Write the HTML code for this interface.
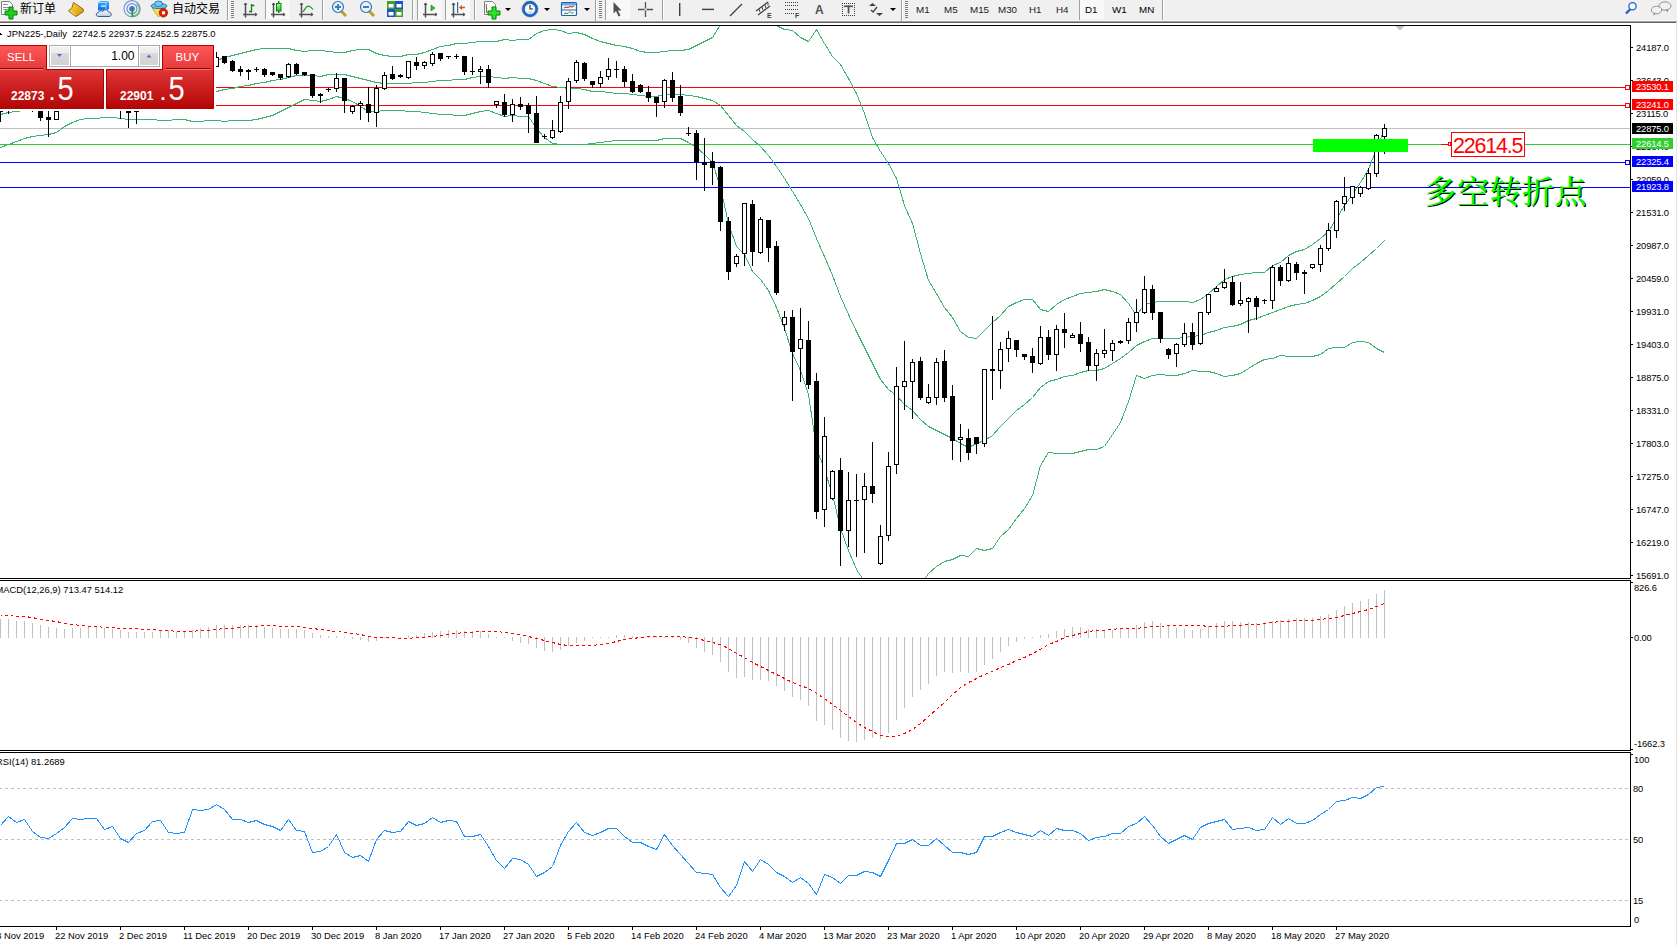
<!DOCTYPE html>
<html><head><meta charset="utf-8"><title>MT4 JPN225 Daily</title>
<style>
html,body{margin:0;padding:0;background:#fff;}
body{width:1677px;height:945px;overflow:hidden;position:relative;font-family:'Liberation Sans', sans-serif;}
</style></head><body>
<svg width="1677" height="23" style="position:absolute;left:0;top:0"><rect x="0" y="0" width="1677" height="20" fill="#f0f0f0"/><rect x="0" y="20" width="1677" height="1" fill="#f7f7f7"/><rect x="0" y="21" width="1677" height="1" fill="#a0a0a0"/><rect x="0" y="22" width="1677" height="1" fill="#646464"/><defs><pattern id="chk" width="2" height="2" patternUnits="userSpaceOnUse"><rect width="2" height="2" fill="#f4f4f4"/><rect width="1" height="1" fill="#fdfdfd"/><rect x="1" y="1" width="1" height="1" fill="#fdfdfd"/></pattern><linearGradient id="gold" x1="0" y1="0" x2="1" y2="1"><stop offset="0" stop-color="#ffe040"/><stop offset="1" stop-color="#d09000"/></linearGradient><linearGradient id="blu" x1="0" y1="0" x2="0" y2="1"><stop offset="0" stop-color="#40b0ff"/><stop offset="1" stop-color="#0070e0"/></linearGradient><linearGradient id="cld" x1="0" y1="0" x2="0" y2="1"><stop offset="0" stop-color="#ffffff"/><stop offset="1" stop-color="#b8c8e0"/></linearGradient><radialGradient id="clk" cx="0.5" cy="0.5" r="0.5"><stop offset="0.6" stop-color="#ffffff"/><stop offset="1" stop-color="#d0e0f0"/></radialGradient><linearGradient id="grn" x1="0" y1="0" x2="0" y2="1"><stop offset="0" stop-color="#a0ffa0"/><stop offset="1" stop-color="#20c020"/></linearGradient></defs><path d="M1.5,1.5 h8 l3,3 v10 h-11 z" fill="#fff" stroke="#808080"/><rect x="3" y="4" width="5" height="1" fill="#909090"/><rect x="3" y="7" width="7" height="1" fill="#909090"/><rect x="3" y="9" width="6" height="1" fill="#909090"/><path d="M9,7 h4 v4 h4 v4 h-4 v4 h-4 v-4 h-4 v-4 h4 z" fill="#20d020" stroke="#008000" stroke-width="1"/><text x="20" y="12.5" font-size="12" font-family="'Liberation Sans', 'Noto Sans CJK SC', sans-serif" fill="#000">新订单</text><path d="M73.5,2.5 L83,9 L83.5,11.5 L76,16.5 L68.5,11 L72,7.5 Z" fill="url(#gold)" stroke="#a06010" stroke-width="1"/><path d="M70,11 L76,15" stroke="#f8e8a0" stroke-width="1"/><path d="M98,2.5 L100.5,1 L109,1 L109,9 L106,10.5 L98,10.5 Z" fill="url(#blu)"/><path d="M98,2.5 L106,2.5 L106,10.5 M106,2.5 L109,1" stroke="#bfe4ff" stroke-width="0.8" fill="none"/><rect x="101" y="5.5" width="4.5" height="1.3" fill="#e8f6ff"/><path d="M98.5,16.5 C95.5,16.5 95.5,12.5 98.5,12.5 C99,10.8 101.5,10.3 102.8,11.5 C103.8,9.2 107.8,9.2 108.4,12 C111.8,11.8 112.3,16.5 109,16.5 Z" fill="url(#cld)" stroke="#3a5a95" stroke-width="1"/><circle cx="132" cy="8.7" r="8" fill="none" stroke="#4070d0" stroke-width="1.2" opacity="0.7"/><circle cx="132" cy="8.7" r="5" fill="none" stroke="#4070d0" stroke-width="1.2" opacity="0.75"/><circle cx="132" cy="8.7" r="2.2" fill="none" stroke="#4070d0" stroke-width="1.2" opacity="1"/><path d="M132,8.7 m-8,0 a8,8 0 0 0 8,8" fill="none"/><path d="M136.5,4 A6.5,6.5 0 0 1 132.5,16" fill="none" stroke="#60b060" stroke-width="2" opacity="0.7"/><circle cx="132" cy="8.7" r="1.8" fill="#3060d0"/><rect x="131.5" y="9" width="1.6" height="7.8" fill="#20a020"/><path d="M152,8 L166,8 L158.5,17 Z" fill="#f8e050" stroke="#d0a020" stroke-width="1"/><ellipse cx="159" cy="6" rx="8" ry="2.6" fill="#70c0f0" stroke="#2080b0" stroke-width="1"/><ellipse cx="158.5" cy="3.8" rx="4" ry="2.8" fill="#80c8f0" stroke="#2080b0" stroke-width="1"/><circle cx="163.4" cy="12.8" r="4.2" fill="#e02000" stroke="#b01000" stroke-width="0.8"/><rect x="162" y="11.3" width="3" height="3" fill="#fff"/><text x="172" y="12.5" font-size="12" font-family="'Liberation Sans', 'Noto Sans CJK SC', sans-serif" fill="#000">自动交易</text><rect x="227" y="0" width="1" height="20" fill="#a0a0a0"/><rect x="228" y="0" width="1" height="20" fill="#fcfcfc"/><rect x="231" y="1" width="3" height="1" fill="#808080"/><rect x="231" y="3" width="3" height="1" fill="#808080"/><rect x="231" y="5" width="3" height="1" fill="#808080"/><rect x="231" y="7" width="3" height="1" fill="#808080"/><rect x="231" y="9" width="3" height="1" fill="#808080"/><rect x="231" y="11" width="3" height="1" fill="#808080"/><rect x="231" y="13" width="3" height="1" fill="#808080"/><rect x="231" y="15" width="3" height="1" fill="#808080"/><rect x="231" y="17" width="3" height="1" fill="#808080"/><path d="M245.5,3 v14.5 M243,14.5 h14" stroke="#505050" stroke-width="1.5" fill="none"/><path d="M243.5,5 l2,-2.5 l2,2.5 z M255,12.5 l2.5,2 l-2.5,2 z" fill="#505050"/><path d="M251.5,4 v8.5 M251.5,5.5 h2.8 M251.5,11.5 h-2.5" stroke="#108010" stroke-width="1.3" fill="none"/><rect x="265" y="0" width="1" height="19" fill="#a0a0a0"/><rect x="266" y="0" width="1" height="19" fill="#fcfcfc"/><rect x="266" y="0" width="24" height="19" fill="url(#chk)"/><path d="M273.5,3 v14.5 M271,14.5 h14" stroke="#505050" stroke-width="1.5" fill="none"/><path d="M271.5,5 l2,-2.5 l2,2.5 z M283,12.5 l2.5,2 l-2.5,2 z" fill="#505050"/><rect x="276.5" y="3.5" width="4.5" height="7.5" fill="url(#grn)" stroke="#108010" stroke-width="1"/><path d="M278.8,1 v2.5 M278.8,11 v2" stroke="#108010" stroke-width="1.3"/><path d="M301.5,3 v14.5 M299,14.5 h14" stroke="#505050" stroke-width="1.5" fill="none"/><path d="M299.5,5 l2,-2.5 l2,2.5 z M311,12.5 l2.5,2 l-2.5,2 z" fill="#505050"/><path d="M303,12 C306,7 308,3 313,9.5" stroke="#20a020" stroke-width="1.2" fill="none"/><rect x="322" y="0" width="1" height="20" fill="#a0a0a0"/><rect x="323" y="0" width="1" height="20" fill="#fcfcfc"/><line x1="341" y1="11" x2="346" y2="16" stroke="#c0a020" stroke-width="3"/><circle cx="338" cy="7" r="5.5" fill="#e8f4ff" stroke="#3070c0" stroke-width="1.2"/><rect x="335" y="6" width="6" height="2" fill="#4080b0"/><rect x="337" y="4" width="2" height="6" fill="#4080b0"/><line x1="369" y1="11" x2="374" y2="16" stroke="#c0a020" stroke-width="3"/><circle cx="366" cy="7" r="5.5" fill="#e8f4ff" stroke="#3070c0" stroke-width="1.2"/><rect x="363" y="6" width="6" height="2" fill="#4080b0"/><rect x="387" y="1" width="8" height="8" fill="#40a020"/><rect x="388.5" y="4" width="5" height="3.5" fill="#fff"/><rect x="395" y="1" width="8" height="8" fill="#2050d0"/><rect x="396.5" y="4" width="5" height="3.5" fill="#fff"/><rect x="387" y="9" width="8" height="8" fill="#2050d0"/><rect x="388.5" y="12" width="5" height="3.5" fill="#fff"/><rect x="395" y="9" width="8" height="8" fill="#40a020"/><rect x="396.5" y="12" width="5" height="3.5" fill="#fff"/><rect x="412" y="0" width="1" height="20" fill="#a0a0a0"/><rect x="413" y="0" width="1" height="20" fill="#fcfcfc"/><rect x="417" y="0" width="1" height="20" fill="#a0a0a0"/><rect x="418" y="0" width="1" height="20" fill="#fcfcfc"/><rect x="418" y="0" width="24" height="19" fill="url(#chk)"/><path d="M425.5,3 v14.5 M423,14.5 h14" stroke="#505050" stroke-width="1.5" fill="none"/><path d="M423.5,5 l2,-2.5 l2,2.5 z M435,12.5 l2.5,2 l-2.5,2 z" fill="#505050"/><path d="M431,5 l4,3 l-4,3 z" fill="#20c040" stroke="#108020" stroke-width="0.6"/><rect x="445" y="0" width="1" height="20" fill="#a0a0a0"/><rect x="446" y="0" width="1" height="20" fill="#fcfcfc"/><rect x="446" y="0" width="24" height="19" fill="url(#chk)"/><path d="M453.5,3 v14.5 M451,14.5 h14" stroke="#505050" stroke-width="1.5" fill="none"/><path d="M451.5,5 l2,-2.5 l2,2.5 z M463,12.5 l2.5,2 l-2.5,2 z" fill="#505050"/><rect x="457" y="2" width="1.2" height="11" fill="#2070b0"/><path d="M459,7.5 l3,-2.5 v1.7 h3 v1.6 h-3 v1.7 z" fill="#e05010"/><rect x="474" y="0" width="1" height="20" fill="#a0a0a0"/><rect x="475" y="0" width="1" height="20" fill="#fcfcfc"/><path d="M484.5,1.5 h8 l3,3 v10 h-11 z" fill="#fff" stroke="#808080"/><path d="M487,4 C486,4 486,6 486.5,8 C487,10 486,12 487,13" stroke="#605030" stroke-width="1" fill="none"/><path d="M492,7 h4 v4 h4 v4 h-4 v4 h-4 v-4 h-4 v-4 h4 z" fill="#30e030" stroke="#008000" stroke-width="1"/><path d="M505,8 h6 l-3,3 z" fill="#000"/><circle cx="530" cy="9" r="6.6" fill="#ffffff" stroke="#1a64c8" stroke-width="2.6"/><circle cx="530" cy="9" r="8" fill="none" stroke="#0c3f90" stroke-width="0.6" opacity="0.6"/><rect x="529.60" y="4.00" width="0.8" height="0.8" fill="#7090c0"/><rect x="531.90" y="4.62" width="0.8" height="0.8" fill="#7090c0"/><rect x="533.58" y="6.30" width="0.8" height="0.8" fill="#7090c0"/><rect x="534.20" y="8.60" width="0.8" height="0.8" fill="#7090c0"/><rect x="533.58" y="10.90" width="0.8" height="0.8" fill="#7090c0"/><rect x="531.90" y="12.58" width="0.8" height="0.8" fill="#7090c0"/><rect x="529.60" y="13.20" width="0.8" height="0.8" fill="#7090c0"/><rect x="527.30" y="12.58" width="0.8" height="0.8" fill="#7090c0"/><rect x="525.62" y="10.90" width="0.8" height="0.8" fill="#7090c0"/><rect x="525.00" y="8.60" width="0.8" height="0.8" fill="#7090c0"/><rect x="525.62" y="6.30" width="0.8" height="0.8" fill="#7090c0"/><rect x="527.30" y="4.62" width="0.8" height="0.8" fill="#7090c0"/><path d="M530,5 v4 h3" stroke="#202020" stroke-width="1.1" fill="none"/><path d="M528,12.2 h4" stroke="#90b0e0" stroke-width="0.8"/><path d="M544,8 h6 l-3,3 z" fill="#000"/><rect x="561.5" y="2.5" width="15" height="13" rx="1" fill="#fff" stroke="#2060b0" stroke-width="1.2"/><rect x="562" y="3" width="14" height="2.5" fill="#70a8e0"/><rect x="562" y="9.5" width="14" height="1" fill="#2060b0"/><path d="M564,8 l2,-1 l2,0.5 l2,-1 l2,0.5 l2,-1" stroke="#a02000" stroke-width="1" fill="none"/><path d="M564,14 l2,-1 l2,0.5 l2,-2 l2,2 l1.5,-1" stroke="#109010" stroke-width="1" fill="none"/><path d="M584,8 h6 l-3,3 z" fill="#000"/><rect x="595" y="0" width="1" height="21" fill="#a0a0a0"/><rect x="596" y="0" width="1" height="21" fill="#fcfcfc"/><rect x="599" y="1" width="3" height="1" fill="#808080"/><rect x="599" y="3" width="3" height="1" fill="#808080"/><rect x="599" y="5" width="3" height="1" fill="#808080"/><rect x="599" y="7" width="3" height="1" fill="#808080"/><rect x="599" y="9" width="3" height="1" fill="#808080"/><rect x="599" y="11" width="3" height="1" fill="#808080"/><rect x="599" y="13" width="3" height="1" fill="#808080"/><rect x="599" y="15" width="3" height="1" fill="#808080"/><rect x="599" y="17" width="3" height="1" fill="#808080"/><rect x="605" y="0" width="1" height="20" fill="#a0a0a0"/><rect x="606" y="0" width="1" height="20" fill="#fcfcfc"/><rect x="606" y="0" width="24" height="19" fill="url(#chk)"/><path d="M613.5,2 L613.5,13.5 L616,11 L618.5,16.5 L620.5,15.5 L618,10.5 L621.5,10.5 Z" fill="#505050"/><path d="M645.5,2 v15 M638,9.5 h15" stroke="#505050" stroke-width="1.3"/><rect x="644.5" y="8.5" width="2" height="2" fill="#f0f0f0"/><rect x="662" y="0" width="1" height="20" fill="#a0a0a0"/><rect x="663" y="0" width="1" height="20" fill="#fcfcfc"/><rect x="679" y="3" width="1.4" height="13" fill="#404040"/><rect x="702" y="8.7" width="12" height="1.4" fill="#404040"/><line x1="730" y1="16" x2="742" y2="4" stroke="#404040" stroke-width="1.3"/><path d="M756,11 L768,2 M758,15 L770,6" stroke="#404040" stroke-width="1.2"/><path d="M759,9 l1,3 M762,7 l1,3 M765,5 l1,3 M768,2.5 l0,3" stroke="#404040" stroke-width="1"/><text x="767" y="18" font-size="7" font-weight="700" font-family="'Liberation Sans', sans-serif" fill="#404040">E</text><rect x="785" y="2" width="1" height="1" fill="#404040"/><rect x="787" y="2" width="1" height="1" fill="#404040"/><rect x="789" y="2" width="1" height="1" fill="#404040"/><rect x="791" y="2" width="1" height="1" fill="#404040"/><rect x="793" y="2" width="1" height="1" fill="#404040"/><rect x="795" y="2" width="1" height="1" fill="#404040"/><rect x="797" y="2" width="1" height="1" fill="#404040"/><rect x="785" y="5" width="1" height="1" fill="#404040"/><rect x="787" y="5" width="1" height="1" fill="#404040"/><rect x="789" y="5" width="1" height="1" fill="#404040"/><rect x="791" y="5" width="1" height="1" fill="#404040"/><rect x="793" y="5" width="1" height="1" fill="#404040"/><rect x="795" y="5" width="1" height="1" fill="#404040"/><rect x="797" y="5" width="1" height="1" fill="#404040"/><rect x="785" y="9" width="1" height="1" fill="#404040"/><rect x="787" y="9" width="1" height="1" fill="#404040"/><rect x="789" y="9" width="1" height="1" fill="#404040"/><rect x="791" y="9" width="1" height="1" fill="#404040"/><rect x="793" y="9" width="1" height="1" fill="#404040"/><rect x="795" y="9" width="1" height="1" fill="#404040"/><rect x="797" y="9" width="1" height="1" fill="#404040"/><rect x="785" y="13" width="1" height="1" fill="#404040"/><rect x="787" y="13" width="1" height="1" fill="#404040"/><rect x="789" y="13" width="1" height="1" fill="#404040"/><rect x="791" y="13" width="1" height="1" fill="#404040"/><rect x="793" y="13" width="1" height="1" fill="#404040"/><text x="795" y="18" font-size="7" font-weight="700" font-family="'Liberation Sans', sans-serif" fill="#404040">F</text><text x="815" y="14" font-size="12" font-weight="700" font-family="'Liberation Sans', sans-serif" fill="#505050">A</text><rect x="842" y="3" width="1" height="1" fill="#404040"/><rect x="842" y="15" width="1" height="1" fill="#404040"/><rect x="844" y="3" width="1" height="1" fill="#404040"/><rect x="844" y="15" width="1" height="1" fill="#404040"/><rect x="846" y="3" width="1" height="1" fill="#404040"/><rect x="846" y="15" width="1" height="1" fill="#404040"/><rect x="848" y="3" width="1" height="1" fill="#404040"/><rect x="848" y="15" width="1" height="1" fill="#404040"/><rect x="850" y="3" width="1" height="1" fill="#404040"/><rect x="850" y="15" width="1" height="1" fill="#404040"/><rect x="852" y="3" width="1" height="1" fill="#404040"/><rect x="852" y="15" width="1" height="1" fill="#404040"/><rect x="854" y="3" width="1" height="1" fill="#404040"/><rect x="854" y="15" width="1" height="1" fill="#404040"/><rect x="842" y="3" width="1" height="1" fill="#404040"/><rect x="854" y="3" width="1" height="1" fill="#404040"/><rect x="842" y="5" width="1" height="1" fill="#404040"/><rect x="854" y="5" width="1" height="1" fill="#404040"/><rect x="842" y="7" width="1" height="1" fill="#404040"/><rect x="854" y="7" width="1" height="1" fill="#404040"/><rect x="842" y="9" width="1" height="1" fill="#404040"/><rect x="854" y="9" width="1" height="1" fill="#404040"/><rect x="842" y="11" width="1" height="1" fill="#404040"/><rect x="854" y="11" width="1" height="1" fill="#404040"/><rect x="842" y="13" width="1" height="1" fill="#404040"/><rect x="854" y="13" width="1" height="1" fill="#404040"/><rect x="842" y="15" width="1" height="1" fill="#404040"/><rect x="854" y="15" width="1" height="1" fill="#404040"/><rect x="844" y="5.5" width="9" height="1.6" fill="#505050"/><rect x="847.7" y="5.5" width="1.7" height="8" fill="#505050"/><path d="M869,6 l3.5,-3 l3.5,3 z M876,13 l3.5,3 l3.5,-3 z" fill="#404040"/><path d="M871,10 l2,2 l4,-5" stroke="#404040" stroke-width="1.3" fill="none"/><path d="M890,8 h6 l-3,3 z" fill="#000"/><rect x="901" y="0" width="1" height="21" fill="#a0a0a0"/><rect x="902" y="0" width="1" height="21" fill="#fcfcfc"/><rect x="905" y="1" width="3" height="1" fill="#808080"/><rect x="905" y="3" width="3" height="1" fill="#808080"/><rect x="905" y="5" width="3" height="1" fill="#808080"/><rect x="905" y="7" width="3" height="1" fill="#808080"/><rect x="905" y="9" width="3" height="1" fill="#808080"/><rect x="905" y="11" width="3" height="1" fill="#808080"/><rect x="905" y="13" width="3" height="1" fill="#808080"/><rect x="905" y="15" width="3" height="1" fill="#808080"/><rect x="905" y="17" width="3" height="1" fill="#808080"/><text x="916" y="13" font-size="9.8" font-family="'Liberation Sans', sans-serif" fill="#1a1a1a">M1</text><text x="944" y="13" font-size="9.8" font-family="'Liberation Sans', sans-serif" fill="#1a1a1a">M5</text><text x="970" y="13" font-size="9.8" font-family="'Liberation Sans', sans-serif" fill="#1a1a1a">M15</text><text x="998" y="13" font-size="9.8" font-family="'Liberation Sans', sans-serif" fill="#1a1a1a">M30</text><text x="1029" y="13" font-size="9.8" font-family="'Liberation Sans', sans-serif" fill="#1a1a1a">H1</text><text x="1056" y="13" font-size="9.8" font-family="'Liberation Sans', sans-serif" fill="#1a1a1a">H4</text><rect x="1079" y="0" width="1" height="20" fill="#a0a0a0"/><rect x="1080" y="0" width="1" height="20" fill="#fcfcfc"/><rect x="1080" y="0" width="24" height="19" fill="url(#chk)"/><text x="1085" y="13" font-size="9.8" font-family="'Liberation Sans', sans-serif" fill="#000">D1</text><text x="1112" y="13" font-size="9.8" font-family="'Liberation Sans', sans-serif" fill="#000">W1</text><text x="1139" y="13" font-size="9.8" font-family="'Liberation Sans', sans-serif" fill="#000">MN</text><rect x="1162" y="0" width="1" height="20" fill="#a0a0a0"/><rect x="1163" y="0" width="1" height="20" fill="#fcfcfc"/><line x1="1626" y1="13.5" x2="1630" y2="9.5" stroke="#2060d0" stroke-width="2.4"/><circle cx="1632.5" cy="6.3" r="3.6" fill="#fff" stroke="#2060d0" stroke-width="1.3"/><ellipse cx="1665" cy="6" rx="6" ry="4.2" fill="#f0f0f4" stroke="#909090" stroke-width="1"/><path d="M1666,9.5 l1.5,3 l0.5,-3" fill="#707070"/><ellipse cx="1656.5" cy="10" rx="5.2" ry="3.8" fill="#f2f2f6" stroke="#909090" stroke-width="1"/><path d="M1654,13.2 l-0.8,2.5 l2.5,-2.2" fill="#707070"/></svg>
<svg width="1677" height="945" viewBox="0 0 1677 945" style="position:absolute;left:0;top:0" shape-rendering="crispEdges">
<defs><clipPath id="cmain"><rect x="0" y="26" width="1630" height="552"/></clipPath><clipPath id="cmacd"><rect x="0" y="581" width="1630" height="169"/></clipPath><clipPath id="crsi"><rect x="0" y="753" width="1630" height="173"/></clipPath></defs>
<rect x="0" y="25" width="1631" height="1" fill="#000"/>
<rect x="1630" y="25" width="1" height="554" fill="#000"/>
<rect x="1630" y="580" width="1" height="171" fill="#000"/>
<rect x="1630" y="752" width="1" height="175" fill="#000"/>
<rect x="0" y="578" width="1631" height="1" fill="#000"/>
<rect x="0" y="580" width="1631" height="1" fill="#000"/>
<rect x="0" y="750" width="1631" height="1" fill="#000"/>
<rect x="0" y="752" width="1631" height="1" fill="#000"/>
<rect x="0" y="926" width="1631" height="1" fill="#000"/>
<g clip-path="url(#cmain)">
<rect x="0" y="128" width="1630" height="1" fill="#c0c0c0"/>
<rect x="0" y="144" width="1630" height="1" fill="#32cd32"/>
<rect x="0" y="87" width="1630" height="1" fill="#ff0000"/>
<rect x="1625" y="85" width="5" height="5" fill="#ff0000"/><rect x="1626" y="86" width="3" height="3" fill="#fff"/>
<rect x="0" y="105" width="1630" height="1" fill="#ff0000"/>
<rect x="1625" y="103" width="5" height="5" fill="#ff0000"/><rect x="1626" y="104" width="3" height="3" fill="#fff"/>
<rect x="0" y="162" width="1630" height="1" fill="#0000ff"/>
<rect x="1625" y="160" width="5" height="5" fill="#0000ff"/><rect x="1626" y="161" width="3" height="3" fill="#fff"/>
<rect x="0" y="187" width="1630" height="1" fill="#0000ff"/>
<polyline points="0.5,72.5 8.5,71.5 16.5,70.5 24.5,70.5 32.5,69.5 40.5,68.5 48.5,68.5 56.5,67.5 64.5,66.5 72.5,66.5 80.5,65.5 88.5,64.5 96.5,64.5 104.5,63.5 112.5,63.5 120.5,63.5 128.5,63.5 136.5,63.5 144.5,62.5 152.5,62.5 160.5,62.5 168.5,62.5 176.5,61.5 184.5,61.5 192.5,61.5 200.5,61.5 208.5,61.5 216.5,60.5 224.5,57.5 232.5,55.5 240.5,53.5 248.5,51.5 256.5,49.5 264.5,48.5 272.5,48.5 280.5,48.5 288.5,48.5 296.5,50.5 304.5,51.5 312.5,50.5 320.5,50.5 328.5,51.5 336.5,52.5 344.5,52.5 352.5,50.5 360.5,49.5 368.5,49.5 376.5,53.5 384.5,55.5 392.5,56.5 400.5,56.5 408.5,54.5 416.5,54.5 424.5,52.5 432.5,49.5 440.5,46.5 448.5,45.5 456.5,43.5 464.5,43.5 472.5,42.5 480.5,41.5 488.5,41.5 496.5,41.5 504.5,39.5 512.5,40.5 520.5,39.5 528.5,39.5 536.5,33.5 544.5,30.5 552.5,29.5 560.5,30.5 568.5,33.5 576.5,32.5 584.5,34.5 592.5,38.5 600.5,41.5 608.5,43.5 616.5,45.5 624.5,46.5 632.5,48.5 640.5,51.5 648.5,52.5 656.5,52.5 664.5,51.5 672.5,50.5 680.5,50.5 688.5,49.5 696.5,45.5 704.5,41.5 712.5,37.5 720.5,24.5 728.5,7.5 736.5,4.5 744.5,7.5 752.5,7.5 760.5,13.5 768.5,21.5 776.5,25.5 784.5,29.5 792.5,30.5 800.5,37.5 808.5,41.5 816.5,29.5 824.5,43.5 832.5,56.5 840.5,64.5 848.5,78.5 856.5,93.5 864.5,113.5 872.5,137.5 880.5,151.5 888.5,163.5 896.5,178.5 904.5,205.5 912.5,223.5 920.5,253.5 928.5,280.5 936.5,293.5 944.5,307.5 952.5,317.5 960.5,331.5 968.5,337.5 976.5,338.5 984.5,330.5 992.5,322.5 1000.5,315.5 1008.5,306.5 1016.5,302.5 1024.5,299.5 1032.5,299.5 1040.5,309.5 1048.5,311.5 1056.5,304.5 1064.5,299.5 1072.5,296.5 1080.5,293.5 1088.5,292.5 1096.5,291.5 1104.5,289.5 1112.5,291.5 1120.5,294.5 1128.5,303.5 1136.5,315.5 1144.5,304.5 1152.5,302.5 1160.5,301.5 1168.5,301.5 1176.5,301.5 1184.5,301.5 1192.5,302.5 1200.5,299.5 1208.5,293.5 1216.5,286.5 1224.5,279.5 1232.5,276.5 1240.5,274.5 1248.5,273.5 1256.5,272.5 1264.5,272.5 1272.5,265.5 1280.5,262.5 1288.5,255.5 1296.5,251.5 1304.5,249.5 1312.5,244.5 1320.5,238.5 1328.5,231.5 1336.5,218.5 1344.5,205.5 1352.5,194.5 1360.5,182.5 1368.5,169.5 1376.5,148.5 1384.5,129.5" fill="none" stroke="#3cb371" stroke-width="1" />
<polyline points="0.5,114.5 8.5,112.5 16.5,111.5 24.5,110.5 32.5,109.5 40.5,108.5 48.5,108.5 56.5,107.5 64.5,106.5 72.5,105.5 80.5,104.5 88.5,103.5 96.5,102.5 104.5,101.5 112.5,100.5 120.5,100.5 128.5,99.5 136.5,98.5 144.5,97.5 152.5,97.5 160.5,96.5 168.5,95.5 176.5,94.5 184.5,94.5 192.5,93.5 200.5,92.5 208.5,91.5 216.5,91.5 224.5,89.5 232.5,88.5 240.5,86.5 248.5,85.5 256.5,83.5 264.5,82.5 272.5,80.5 280.5,79.5 288.5,77.5 296.5,75.5 304.5,75.5 312.5,75.5 320.5,76.5 328.5,74.5 336.5,74.5 344.5,74.5 352.5,76.5 360.5,78.5 368.5,80.5 376.5,82.5 384.5,83.5 392.5,83.5 400.5,83.5 408.5,83.5 416.5,82.5 424.5,82.5 432.5,81.5 440.5,80.5 448.5,80.5 456.5,79.5 464.5,79.5 472.5,77.5 480.5,76.5 488.5,76.5 496.5,77.5 504.5,78.5 512.5,77.5 520.5,78.5 528.5,78.5 536.5,80.5 544.5,83.5 552.5,86.5 560.5,87.5 568.5,88.5 576.5,88.5 584.5,89.5 592.5,91.5 600.5,91.5 608.5,92.5 616.5,93.5 624.5,93.5 632.5,94.5 640.5,95.5 648.5,96.5 656.5,96.5 664.5,94.5 672.5,94.5 680.5,94.5 688.5,95.5 696.5,96.5 704.5,98.5 712.5,100.5 720.5,105.5 728.5,115.5 736.5,125.5 744.5,131.5 752.5,139.5 760.5,146.5 768.5,155.5 776.5,166.5 784.5,178.5 792.5,191.5 800.5,204.5 808.5,218.5 816.5,238.5 824.5,256.5 832.5,275.5 840.5,296.5 848.5,314.5 856.5,331.5 864.5,347.5 872.5,363.5 880.5,379.5 888.5,389.5 896.5,395.5 904.5,404.5 912.5,410.5 920.5,419.5 928.5,426.5 936.5,430.5 944.5,434.5 952.5,438.5 960.5,443.5 968.5,447.5 976.5,443.5 984.5,440.5 992.5,435.5 1000.5,426.5 1008.5,418.5 1016.5,410.5 1024.5,404.5 1032.5,397.5 1040.5,387.5 1048.5,381.5 1056.5,379.5 1064.5,376.5 1072.5,375.5 1080.5,372.5 1088.5,370.5 1096.5,370.5 1104.5,368.5 1112.5,363.5 1120.5,358.5 1128.5,352.5 1136.5,345.5 1144.5,341.5 1152.5,338.5 1160.5,338.5 1168.5,338.5 1176.5,338.5 1184.5,337.5 1192.5,336.5 1200.5,335.5 1208.5,332.5 1216.5,330.5 1224.5,327.5 1232.5,326.5 1240.5,324.5 1248.5,320.5 1256.5,318.5 1264.5,315.5 1272.5,312.5 1280.5,309.5 1288.5,306.5 1296.5,304.5 1304.5,303.5 1312.5,300.5 1320.5,296.5 1328.5,290.5 1336.5,283.5 1344.5,276.5 1352.5,268.5 1360.5,262.5 1368.5,255.5 1376.5,248.5 1384.5,240.5" fill="none" stroke="#3cb371" stroke-width="1" />
<polyline points="0.5,147.5 8.5,144.5 16.5,141.5 24.5,138.5 32.5,136.5 40.5,135.5 48.5,134.5 56.5,132.5 64.5,126.5 72.5,122.5 80.5,119.5 88.5,118.5 96.5,118.5 104.5,117.5 112.5,117.5 120.5,118.5 128.5,119.5 136.5,119.5 144.5,119.5 152.5,119.5 160.5,120.5 168.5,120.5 176.5,119.5 184.5,119.5 192.5,121.5 200.5,121.5 208.5,120.5 216.5,120.5 224.5,121.5 232.5,120.5 240.5,120.5 248.5,120.5 256.5,119.5 264.5,117.5 272.5,115.5 280.5,111.5 288.5,107.5 296.5,103.5 304.5,99.5 312.5,100.5 320.5,101.5 328.5,99.5 336.5,96.5 344.5,98.5 352.5,101.5 360.5,106.5 368.5,111.5 376.5,111.5 384.5,110.5 392.5,110.5 400.5,110.5 408.5,111.5 416.5,111.5 424.5,112.5 432.5,113.5 440.5,114.5 448.5,114.5 456.5,115.5 464.5,115.5 472.5,113.5 480.5,111.5 488.5,110.5 496.5,113.5 504.5,116.5 512.5,115.5 520.5,116.5 528.5,116.5 536.5,128.5 544.5,137.5 552.5,143.5 560.5,144.5 568.5,144.5 576.5,144.5 584.5,144.5 592.5,143.5 600.5,142.5 608.5,141.5 616.5,140.5 624.5,140.5 632.5,140.5 640.5,140.5 648.5,140.5 656.5,140.5 664.5,138.5 672.5,138.5 680.5,138.5 688.5,142.5 696.5,147.5 704.5,154.5 712.5,162.5 720.5,187.5 728.5,223.5 736.5,246.5 744.5,254.5 752.5,271.5 760.5,279.5 768.5,290.5 776.5,307.5 784.5,328.5 792.5,353.5 800.5,370.5 808.5,394.5 816.5,448.5 824.5,469.5 832.5,494.5 840.5,528.5 848.5,550.5 856.5,569.5 864.5,581.5 872.5,590.5 880.5,608.5 888.5,615.5 896.5,613.5 904.5,603.5 912.5,597.5 920.5,585.5 928.5,573.5 936.5,566.5 944.5,561.5 952.5,559.5 960.5,555.5 968.5,556.5 976.5,548.5 984.5,550.5 992.5,548.5 1000.5,536.5 1008.5,529.5 1016.5,518.5 1024.5,508.5 1032.5,495.5 1040.5,465.5 1048.5,452.5 1056.5,453.5 1064.5,453.5 1072.5,453.5 1080.5,451.5 1088.5,449.5 1096.5,449.5 1104.5,446.5 1112.5,434.5 1120.5,422.5 1128.5,401.5 1136.5,375.5 1144.5,378.5 1152.5,375.5 1160.5,374.5 1168.5,375.5 1176.5,375.5 1184.5,373.5 1192.5,370.5 1200.5,371.5 1208.5,371.5 1216.5,373.5 1224.5,376.5 1232.5,375.5 1240.5,373.5 1248.5,368.5 1256.5,363.5 1264.5,359.5 1272.5,358.5 1280.5,355.5 1288.5,356.5 1296.5,356.5 1304.5,356.5 1312.5,356.5 1320.5,354.5 1328.5,348.5 1336.5,347.5 1344.5,347.5 1352.5,342.5 1360.5,341.5 1368.5,342.5 1376.5,348.5 1384.5,352.5" fill="none" stroke="#3cb371" stroke-width="1" />
<rect x="0" y="95" width="1" height="27" fill="#000"/>
<rect x="-2" y="100" width="5" height="12" fill="#000"/>
<rect x="-1" y="101" width="3" height="10" fill="#fff"/>
<rect x="8" y="90" width="1" height="24" fill="#000"/>
<rect x="6" y="95" width="5" height="11" fill="#000"/>
<rect x="7" y="96" width="3" height="9" fill="#fff"/>
<rect x="16" y="85" width="1" height="21" fill="#000"/>
<rect x="14" y="90" width="5" height="11" fill="#000"/>
<rect x="24" y="85" width="1" height="20" fill="#000"/>
<rect x="22" y="88" width="5" height="11" fill="#000"/>
<rect x="23" y="89" width="3" height="9" fill="#fff"/>
<rect x="32" y="90" width="1" height="22" fill="#000"/>
<rect x="30" y="95" width="5" height="10" fill="#000"/>
<rect x="40" y="100" width="1" height="21" fill="#000"/>
<rect x="38" y="105" width="5" height="13" fill="#000"/>
<rect x="48" y="105" width="1" height="32" fill="#000"/>
<rect x="46" y="117" width="5" height="3" fill="#000"/>
<rect x="56" y="111" width="1" height="9" fill="#000"/>
<rect x="54" y="111" width="5" height="9" fill="#000"/>
<rect x="55" y="112" width="3" height="7" fill="#fff"/>
<rect x="64" y="85" width="1" height="22" fill="#000"/>
<rect x="62" y="90" width="5" height="11" fill="#000"/>
<rect x="63" y="91" width="3" height="9" fill="#fff"/>
<rect x="72" y="80" width="1" height="23" fill="#000"/>
<rect x="70" y="85" width="5" height="11" fill="#000"/>
<rect x="71" y="86" width="3" height="9" fill="#fff"/>
<rect x="80" y="78" width="1" height="23" fill="#000"/>
<rect x="78" y="82" width="5" height="11" fill="#000"/>
<rect x="88" y="80" width="1" height="22" fill="#000"/>
<rect x="86" y="85" width="5" height="11" fill="#000"/>
<rect x="87" y="86" width="3" height="9" fill="#fff"/>
<rect x="96" y="75" width="1" height="24" fill="#000"/>
<rect x="94" y="80" width="5" height="13" fill="#000"/>
<rect x="95" y="81" width="3" height="11" fill="#fff"/>
<rect x="104" y="76" width="1" height="21" fill="#000"/>
<rect x="102" y="82" width="5" height="9" fill="#000"/>
<rect x="112" y="80" width="1" height="25" fill="#000"/>
<rect x="110" y="88" width="5" height="11" fill="#000"/>
<rect x="120" y="90" width="1" height="29" fill="#000"/>
<rect x="118" y="95" width="5" height="11" fill="#000"/>
<rect x="128" y="88" width="1" height="40" fill="#000"/>
<rect x="126" y="95" width="5" height="18" fill="#000"/>
<rect x="136" y="80" width="1" height="44" fill="#000"/>
<rect x="134" y="90" width="5" height="22" fill="#000"/>
<rect x="135" y="91" width="3" height="20" fill="#fff"/>
<rect x="144" y="70" width="1" height="26" fill="#000"/>
<rect x="142" y="75" width="5" height="16" fill="#000"/>
<rect x="143" y="76" width="3" height="14" fill="#fff"/>
<rect x="152" y="68" width="1" height="21" fill="#000"/>
<rect x="150" y="72" width="5" height="9" fill="#000"/>
<rect x="160" y="65" width="1" height="21" fill="#000"/>
<rect x="158" y="70" width="5" height="9" fill="#000"/>
<rect x="159" y="71" width="3" height="7" fill="#fff"/>
<rect x="168" y="60" width="1" height="21" fill="#000"/>
<rect x="166" y="65" width="5" height="8" fill="#000"/>
<rect x="167" y="66" width="3" height="6" fill="#fff"/>
<rect x="176" y="58" width="1" height="18" fill="#000"/>
<rect x="174" y="62" width="5" height="9" fill="#000"/>
<rect x="184" y="55" width="1" height="18" fill="#000"/>
<rect x="182" y="60" width="5" height="7" fill="#000"/>
<rect x="183" y="61" width="3" height="5" fill="#fff"/>
<rect x="192" y="56" width="1" height="15" fill="#000"/>
<rect x="190" y="58" width="5" height="7" fill="#000"/>
<rect x="200" y="54" width="1" height="15" fill="#000"/>
<rect x="198" y="57" width="5" height="6" fill="#000"/>
<rect x="199" y="58" width="3" height="4" fill="#fff"/>
<rect x="208" y="52" width="1" height="15" fill="#000"/>
<rect x="206" y="55" width="5" height="6" fill="#000"/>
<rect x="207" y="56" width="3" height="4" fill="#fff"/>
<rect x="216" y="52" width="1" height="15" fill="#000"/>
<rect x="214" y="57" width="5" height="10" fill="#000"/>
<rect x="215" y="58" width="3" height="8" fill="#fff"/>
<rect x="224" y="56" width="1" height="8" fill="#000"/>
<rect x="222" y="56" width="5" height="7" fill="#000"/>
<rect x="232" y="60" width="1" height="12" fill="#000"/>
<rect x="230" y="61" width="5" height="10" fill="#000"/>
<rect x="240" y="66" width="1" height="10" fill="#000"/>
<rect x="238" y="69" width="5" height="3" fill="#000"/>
<rect x="248" y="69" width="1" height="11" fill="#000"/>
<rect x="246" y="70" width="5" height="2" fill="#000"/>
<rect x="256" y="67" width="1" height="5" fill="#000"/>
<rect x="254" y="69" width="5" height="1" fill="#000"/>
<rect x="264" y="68" width="1" height="9" fill="#000"/>
<rect x="262" y="69" width="5" height="6" fill="#000"/>
<rect x="272" y="72" width="1" height="4" fill="#000"/>
<rect x="270" y="72" width="5" height="3" fill="#000"/>
<rect x="280" y="74" width="1" height="6" fill="#000"/>
<rect x="278" y="74" width="5" height="4" fill="#000"/>
<rect x="288" y="63" width="1" height="15" fill="#000"/>
<rect x="286" y="64" width="5" height="13" fill="#000"/>
<rect x="287" y="65" width="3" height="11" fill="#fff"/>
<rect x="296" y="63" width="1" height="12" fill="#000"/>
<rect x="294" y="64" width="5" height="10" fill="#000"/>
<rect x="304" y="72" width="1" height="4" fill="#000"/>
<rect x="302" y="72" width="5" height="3" fill="#000"/>
<rect x="312" y="74" width="1" height="24" fill="#000"/>
<rect x="310" y="74" width="5" height="22" fill="#000"/>
<rect x="320" y="93" width="1" height="10" fill="#000"/>
<rect x="318" y="94" width="5" height="2" fill="#000"/>
<rect x="328" y="88" width="1" height="4" fill="#000"/>
<rect x="326" y="89" width="5" height="1" fill="#000"/>
<rect x="336" y="73" width="1" height="19" fill="#000"/>
<rect x="334" y="78" width="5" height="11" fill="#000"/>
<rect x="335" y="79" width="3" height="9" fill="#fff"/>
<rect x="344" y="78" width="1" height="35" fill="#000"/>
<rect x="342" y="78" width="5" height="23" fill="#000"/>
<rect x="352" y="105" width="1" height="9" fill="#000"/>
<rect x="350" y="106" width="5" height="6" fill="#000"/>
<rect x="351" y="107" width="3" height="4" fill="#fff"/>
<rect x="360" y="101" width="1" height="19" fill="#000"/>
<rect x="358" y="103" width="5" height="3" fill="#000"/>
<rect x="359" y="104" width="3" height="1" fill="#fff"/>
<rect x="368" y="87" width="1" height="35" fill="#000"/>
<rect x="366" y="104" width="5" height="9" fill="#000"/>
<rect x="376" y="85" width="1" height="42" fill="#000"/>
<rect x="374" y="88" width="5" height="25" fill="#000"/>
<rect x="375" y="89" width="3" height="23" fill="#fff"/>
<rect x="384" y="72" width="1" height="18" fill="#000"/>
<rect x="382" y="75" width="5" height="14" fill="#000"/>
<rect x="383" y="76" width="3" height="12" fill="#fff"/>
<rect x="392" y="66" width="1" height="14" fill="#000"/>
<rect x="390" y="74" width="5" height="5" fill="#000"/>
<rect x="400" y="74" width="1" height="4" fill="#000"/>
<rect x="398" y="75" width="5" height="2" fill="#000"/>
<rect x="408" y="61" width="1" height="18" fill="#000"/>
<rect x="406" y="61" width="5" height="17" fill="#000"/>
<rect x="407" y="62" width="3" height="15" fill="#fff"/>
<rect x="416" y="57" width="1" height="13" fill="#000"/>
<rect x="414" y="62" width="5" height="4" fill="#000"/>
<rect x="424" y="61" width="1" height="8" fill="#000"/>
<rect x="422" y="62" width="5" height="4" fill="#000"/>
<rect x="423" y="63" width="3" height="2" fill="#fff"/>
<rect x="432" y="52" width="1" height="14" fill="#000"/>
<rect x="430" y="54" width="5" height="10" fill="#000"/>
<rect x="431" y="55" width="3" height="8" fill="#fff"/>
<rect x="440" y="53" width="1" height="8" fill="#000"/>
<rect x="438" y="53" width="5" height="6" fill="#000"/>
<rect x="448" y="56" width="1" height="3" fill="#000"/>
<rect x="446" y="56" width="5" height="1" fill="#000"/>
<rect x="456" y="54" width="1" height="5" fill="#000"/>
<rect x="454" y="56" width="5" height="1" fill="#000"/>
<rect x="464" y="56" width="1" height="19" fill="#000"/>
<rect x="462" y="56" width="5" height="16" fill="#000"/>
<rect x="472" y="57" width="1" height="18" fill="#000"/>
<rect x="470" y="71" width="5" height="1" fill="#000"/>
<rect x="480" y="66" width="1" height="18" fill="#000"/>
<rect x="478" y="69" width="5" height="3" fill="#000"/>
<rect x="479" y="70" width="3" height="1" fill="#fff"/>
<rect x="488" y="65" width="1" height="23" fill="#000"/>
<rect x="486" y="69" width="5" height="14" fill="#000"/>
<rect x="496" y="101" width="1" height="7" fill="#000"/>
<rect x="494" y="101" width="5" height="4" fill="#000"/>
<rect x="495" y="102" width="3" height="2" fill="#fff"/>
<rect x="504" y="94" width="1" height="23" fill="#000"/>
<rect x="502" y="102" width="5" height="13" fill="#000"/>
<rect x="512" y="99" width="1" height="23" fill="#000"/>
<rect x="510" y="104" width="5" height="11" fill="#000"/>
<rect x="511" y="105" width="3" height="9" fill="#fff"/>
<rect x="520" y="97" width="1" height="13" fill="#000"/>
<rect x="518" y="104" width="5" height="3" fill="#000"/>
<rect x="528" y="103" width="1" height="30" fill="#000"/>
<rect x="526" y="105" width="5" height="9" fill="#000"/>
<rect x="536" y="96" width="1" height="47" fill="#000"/>
<rect x="534" y="113" width="5" height="30" fill="#000"/>
<rect x="544" y="134" width="1" height="5" fill="#000"/>
<rect x="542" y="136" width="5" height="1" fill="#000"/>
<rect x="552" y="120" width="1" height="19" fill="#000"/>
<rect x="550" y="130" width="5" height="8" fill="#000"/>
<rect x="551" y="131" width="3" height="6" fill="#fff"/>
<rect x="560" y="96" width="1" height="37" fill="#000"/>
<rect x="558" y="102" width="5" height="30" fill="#000"/>
<rect x="559" y="103" width="3" height="28" fill="#fff"/>
<rect x="568" y="78" width="1" height="31" fill="#000"/>
<rect x="566" y="81" width="5" height="21" fill="#000"/>
<rect x="567" y="82" width="3" height="19" fill="#fff"/>
<rect x="576" y="60" width="1" height="23" fill="#000"/>
<rect x="574" y="62" width="5" height="19" fill="#000"/>
<rect x="575" y="63" width="3" height="17" fill="#fff"/>
<rect x="584" y="62" width="1" height="19" fill="#000"/>
<rect x="582" y="63" width="5" height="16" fill="#000"/>
<rect x="592" y="81" width="1" height="7" fill="#000"/>
<rect x="590" y="81" width="5" height="4" fill="#000"/>
<rect x="600" y="71" width="1" height="17" fill="#000"/>
<rect x="598" y="77" width="5" height="7" fill="#000"/>
<rect x="599" y="78" width="3" height="5" fill="#fff"/>
<rect x="608" y="58" width="1" height="22" fill="#000"/>
<rect x="606" y="69" width="5" height="8" fill="#000"/>
<rect x="607" y="70" width="3" height="6" fill="#fff"/>
<rect x="616" y="61" width="1" height="17" fill="#000"/>
<rect x="614" y="69" width="5" height="1" fill="#000"/>
<rect x="624" y="66" width="1" height="21" fill="#000"/>
<rect x="622" y="69" width="5" height="13" fill="#000"/>
<rect x="632" y="74" width="1" height="19" fill="#000"/>
<rect x="630" y="81" width="5" height="11" fill="#000"/>
<rect x="640" y="84" width="1" height="9" fill="#000"/>
<rect x="638" y="85" width="5" height="7" fill="#000"/>
<rect x="648" y="86" width="1" height="16" fill="#000"/>
<rect x="646" y="92" width="5" height="6" fill="#000"/>
<rect x="656" y="97" width="1" height="20" fill="#000"/>
<rect x="654" y="97" width="5" height="6" fill="#000"/>
<rect x="664" y="79" width="1" height="29" fill="#000"/>
<rect x="662" y="80" width="5" height="22" fill="#000"/>
<rect x="663" y="81" width="3" height="20" fill="#fff"/>
<rect x="672" y="72" width="1" height="30" fill="#000"/>
<rect x="670" y="80" width="5" height="18" fill="#000"/>
<rect x="680" y="85" width="1" height="31" fill="#000"/>
<rect x="678" y="96" width="5" height="17" fill="#000"/>
<rect x="688" y="127" width="1" height="9" fill="#000"/>
<rect x="686" y="133" width="5" height="1" fill="#000"/>
<rect x="696" y="130" width="1" height="50" fill="#000"/>
<rect x="694" y="133" width="5" height="29" fill="#000"/>
<rect x="704" y="138" width="1" height="53" fill="#000"/>
<rect x="702" y="162" width="5" height="3" fill="#000"/>
<rect x="712" y="152" width="1" height="33" fill="#000"/>
<rect x="710" y="161" width="5" height="7" fill="#000"/>
<rect x="720" y="166" width="1" height="65" fill="#000"/>
<rect x="718" y="167" width="5" height="55" fill="#000"/>
<rect x="728" y="217" width="1" height="63" fill="#000"/>
<rect x="726" y="221" width="5" height="51" fill="#000"/>
<rect x="736" y="254" width="1" height="13" fill="#000"/>
<rect x="734" y="256" width="5" height="8" fill="#000"/>
<rect x="735" y="257" width="3" height="6" fill="#fff"/>
<rect x="744" y="203" width="1" height="63" fill="#000"/>
<rect x="742" y="203" width="5" height="51" fill="#000"/>
<rect x="743" y="204" width="3" height="49" fill="#fff"/>
<rect x="752" y="200" width="1" height="66" fill="#000"/>
<rect x="750" y="204" width="5" height="48" fill="#000"/>
<rect x="760" y="217" width="1" height="37" fill="#000"/>
<rect x="758" y="219" width="5" height="34" fill="#000"/>
<rect x="759" y="220" width="3" height="32" fill="#fff"/>
<rect x="768" y="220" width="1" height="42" fill="#000"/>
<rect x="766" y="220" width="5" height="28" fill="#000"/>
<rect x="776" y="241" width="1" height="54" fill="#000"/>
<rect x="774" y="246" width="5" height="47" fill="#000"/>
<rect x="784" y="311" width="1" height="20" fill="#000"/>
<rect x="782" y="317" width="5" height="8" fill="#000"/>
<rect x="783" y="318" width="3" height="6" fill="#fff"/>
<rect x="792" y="310" width="1" height="91" fill="#000"/>
<rect x="790" y="317" width="5" height="35" fill="#000"/>
<rect x="800" y="308" width="1" height="74" fill="#000"/>
<rect x="798" y="339" width="5" height="10" fill="#000"/>
<rect x="799" y="340" width="3" height="8" fill="#fff"/>
<rect x="808" y="321" width="1" height="68" fill="#000"/>
<rect x="806" y="340" width="5" height="45" fill="#000"/>
<rect x="816" y="373" width="1" height="146" fill="#000"/>
<rect x="814" y="381" width="5" height="131" fill="#000"/>
<rect x="824" y="417" width="1" height="110" fill="#000"/>
<rect x="822" y="436" width="5" height="74" fill="#000"/>
<rect x="823" y="437" width="3" height="72" fill="#fff"/>
<rect x="832" y="470" width="1" height="30" fill="#000"/>
<rect x="830" y="471" width="5" height="28" fill="#000"/>
<rect x="831" y="472" width="3" height="26" fill="#fff"/>
<rect x="840" y="458" width="1" height="108" fill="#000"/>
<rect x="838" y="470" width="5" height="61" fill="#000"/>
<rect x="848" y="472" width="1" height="75" fill="#000"/>
<rect x="846" y="500" width="5" height="31" fill="#000"/>
<rect x="847" y="501" width="3" height="29" fill="#fff"/>
<rect x="856" y="474" width="1" height="83" fill="#000"/>
<rect x="854" y="500" width="5" height="1" fill="#000"/>
<rect x="864" y="473" width="1" height="80" fill="#000"/>
<rect x="862" y="486" width="5" height="14" fill="#000"/>
<rect x="863" y="487" width="3" height="12" fill="#fff"/>
<rect x="872" y="442" width="1" height="61" fill="#000"/>
<rect x="870" y="486" width="5" height="8" fill="#000"/>
<rect x="880" y="525" width="1" height="40" fill="#000"/>
<rect x="878" y="536" width="5" height="28" fill="#000"/>
<rect x="879" y="537" width="3" height="26" fill="#fff"/>
<rect x="888" y="452" width="1" height="89" fill="#000"/>
<rect x="886" y="466" width="5" height="70" fill="#000"/>
<rect x="887" y="467" width="3" height="68" fill="#fff"/>
<rect x="896" y="367" width="1" height="107" fill="#000"/>
<rect x="894" y="386" width="5" height="79" fill="#000"/>
<rect x="895" y="387" width="3" height="77" fill="#fff"/>
<rect x="904" y="341" width="1" height="69" fill="#000"/>
<rect x="902" y="381" width="5" height="6" fill="#000"/>
<rect x="903" y="382" width="3" height="4" fill="#fff"/>
<rect x="912" y="359" width="1" height="60" fill="#000"/>
<rect x="910" y="362" width="5" height="20" fill="#000"/>
<rect x="911" y="363" width="3" height="18" fill="#fff"/>
<rect x="920" y="357" width="1" height="43" fill="#000"/>
<rect x="918" y="361" width="5" height="37" fill="#000"/>
<rect x="928" y="384" width="1" height="20" fill="#000"/>
<rect x="926" y="397" width="5" height="6" fill="#000"/>
<rect x="927" y="398" width="3" height="4" fill="#fff"/>
<rect x="936" y="358" width="1" height="47" fill="#000"/>
<rect x="934" y="362" width="5" height="36" fill="#000"/>
<rect x="935" y="363" width="3" height="34" fill="#fff"/>
<rect x="944" y="350" width="1" height="52" fill="#000"/>
<rect x="942" y="361" width="5" height="37" fill="#000"/>
<rect x="952" y="385" width="1" height="75" fill="#000"/>
<rect x="950" y="396" width="5" height="45" fill="#000"/>
<rect x="960" y="424" width="1" height="38" fill="#000"/>
<rect x="958" y="437" width="5" height="3" fill="#000"/>
<rect x="959" y="438" width="3" height="1" fill="#fff"/>
<rect x="968" y="429" width="1" height="31" fill="#000"/>
<rect x="966" y="438" width="5" height="15" fill="#000"/>
<rect x="976" y="437" width="1" height="17" fill="#000"/>
<rect x="974" y="437" width="5" height="7" fill="#000"/>
<rect x="984" y="369" width="1" height="78" fill="#000"/>
<rect x="982" y="369" width="5" height="75" fill="#000"/>
<rect x="983" y="370" width="3" height="73" fill="#fff"/>
<rect x="992" y="316" width="1" height="84" fill="#000"/>
<rect x="990" y="369" width="5" height="2" fill="#000"/>
<rect x="1000" y="342" width="1" height="47" fill="#000"/>
<rect x="998" y="349" width="5" height="22" fill="#000"/>
<rect x="999" y="350" width="3" height="20" fill="#fff"/>
<rect x="1008" y="331" width="1" height="31" fill="#000"/>
<rect x="1006" y="338" width="5" height="11" fill="#000"/>
<rect x="1007" y="339" width="3" height="9" fill="#fff"/>
<rect x="1016" y="340" width="1" height="17" fill="#000"/>
<rect x="1014" y="340" width="5" height="10" fill="#000"/>
<rect x="1024" y="354" width="1" height="6" fill="#000"/>
<rect x="1022" y="354" width="5" height="3" fill="#000"/>
<rect x="1032" y="348" width="1" height="25" fill="#000"/>
<rect x="1030" y="356" width="5" height="7" fill="#000"/>
<rect x="1040" y="326" width="1" height="39" fill="#000"/>
<rect x="1038" y="337" width="5" height="27" fill="#000"/>
<rect x="1039" y="338" width="3" height="25" fill="#fff"/>
<rect x="1048" y="330" width="1" height="30" fill="#000"/>
<rect x="1046" y="337" width="5" height="18" fill="#000"/>
<rect x="1056" y="325" width="1" height="46" fill="#000"/>
<rect x="1054" y="329" width="5" height="26" fill="#000"/>
<rect x="1055" y="330" width="3" height="24" fill="#fff"/>
<rect x="1064" y="313" width="1" height="35" fill="#000"/>
<rect x="1062" y="329" width="5" height="4" fill="#000"/>
<rect x="1072" y="333" width="1" height="5" fill="#000"/>
<rect x="1070" y="335" width="5" height="3" fill="#000"/>
<rect x="1071" y="336" width="3" height="1" fill="#fff"/>
<rect x="1080" y="322" width="1" height="30" fill="#000"/>
<rect x="1078" y="334" width="5" height="10" fill="#000"/>
<rect x="1088" y="337" width="1" height="34" fill="#000"/>
<rect x="1086" y="342" width="5" height="24" fill="#000"/>
<rect x="1096" y="349" width="1" height="32" fill="#000"/>
<rect x="1094" y="353" width="5" height="13" fill="#000"/>
<rect x="1095" y="354" width="3" height="11" fill="#fff"/>
<rect x="1104" y="329" width="1" height="29" fill="#000"/>
<rect x="1102" y="350" width="5" height="4" fill="#000"/>
<rect x="1103" y="351" width="3" height="2" fill="#fff"/>
<rect x="1112" y="340" width="1" height="21" fill="#000"/>
<rect x="1110" y="343" width="5" height="8" fill="#000"/>
<rect x="1111" y="344" width="3" height="6" fill="#fff"/>
<rect x="1120" y="340" width="1" height="4" fill="#000"/>
<rect x="1118" y="341" width="5" height="2" fill="#000"/>
<rect x="1128" y="318" width="1" height="26" fill="#000"/>
<rect x="1126" y="322" width="5" height="19" fill="#000"/>
<rect x="1127" y="323" width="3" height="17" fill="#fff"/>
<rect x="1136" y="299" width="1" height="33" fill="#000"/>
<rect x="1134" y="312" width="5" height="11" fill="#000"/>
<rect x="1135" y="313" width="3" height="9" fill="#fff"/>
<rect x="1144" y="276" width="1" height="38" fill="#000"/>
<rect x="1142" y="289" width="5" height="24" fill="#000"/>
<rect x="1143" y="290" width="3" height="22" fill="#fff"/>
<rect x="1152" y="285" width="1" height="35" fill="#000"/>
<rect x="1150" y="289" width="5" height="24" fill="#000"/>
<rect x="1160" y="312" width="1" height="31" fill="#000"/>
<rect x="1158" y="312" width="5" height="27" fill="#000"/>
<rect x="1168" y="348" width="1" height="11" fill="#000"/>
<rect x="1166" y="349" width="5" height="6" fill="#000"/>
<rect x="1176" y="343" width="1" height="24" fill="#000"/>
<rect x="1174" y="344" width="5" height="10" fill="#000"/>
<rect x="1175" y="345" width="3" height="8" fill="#fff"/>
<rect x="1184" y="323" width="1" height="24" fill="#000"/>
<rect x="1182" y="333" width="5" height="12" fill="#000"/>
<rect x="1183" y="334" width="3" height="10" fill="#fff"/>
<rect x="1192" y="323" width="1" height="27" fill="#000"/>
<rect x="1190" y="332" width="5" height="13" fill="#000"/>
<rect x="1200" y="312" width="1" height="33" fill="#000"/>
<rect x="1198" y="312" width="5" height="32" fill="#000"/>
<rect x="1199" y="313" width="3" height="30" fill="#fff"/>
<rect x="1208" y="294" width="1" height="21" fill="#000"/>
<rect x="1206" y="294" width="5" height="19" fill="#000"/>
<rect x="1207" y="295" width="3" height="17" fill="#fff"/>
<rect x="1216" y="286" width="1" height="6" fill="#000"/>
<rect x="1214" y="288" width="5" height="4" fill="#000"/>
<rect x="1215" y="289" width="3" height="2" fill="#fff"/>
<rect x="1224" y="269" width="1" height="20" fill="#000"/>
<rect x="1222" y="282" width="5" height="6" fill="#000"/>
<rect x="1223" y="283" width="3" height="4" fill="#fff"/>
<rect x="1232" y="276" width="1" height="30" fill="#000"/>
<rect x="1230" y="282" width="5" height="23" fill="#000"/>
<rect x="1240" y="282" width="1" height="24" fill="#000"/>
<rect x="1238" y="300" width="5" height="4" fill="#000"/>
<rect x="1239" y="301" width="3" height="2" fill="#fff"/>
<rect x="1248" y="297" width="1" height="36" fill="#000"/>
<rect x="1246" y="298" width="5" height="4" fill="#000"/>
<rect x="1247" y="299" width="3" height="2" fill="#fff"/>
<rect x="1256" y="296" width="1" height="24" fill="#000"/>
<rect x="1254" y="298" width="5" height="9" fill="#000"/>
<rect x="1264" y="299" width="1" height="5" fill="#000"/>
<rect x="1262" y="300" width="5" height="1" fill="#000"/>
<rect x="1272" y="265" width="1" height="44" fill="#000"/>
<rect x="1270" y="267" width="5" height="34" fill="#000"/>
<rect x="1271" y="268" width="3" height="32" fill="#fff"/>
<rect x="1280" y="265" width="1" height="21" fill="#000"/>
<rect x="1278" y="267" width="5" height="14" fill="#000"/>
<rect x="1288" y="257" width="1" height="25" fill="#000"/>
<rect x="1286" y="263" width="5" height="18" fill="#000"/>
<rect x="1287" y="264" width="3" height="16" fill="#fff"/>
<rect x="1296" y="262" width="1" height="18" fill="#000"/>
<rect x="1294" y="264" width="5" height="9" fill="#000"/>
<rect x="1304" y="270" width="1" height="24" fill="#000"/>
<rect x="1302" y="272" width="5" height="2" fill="#000"/>
<rect x="1312" y="264" width="1" height="5" fill="#000"/>
<rect x="1310" y="264" width="5" height="4" fill="#000"/>
<rect x="1311" y="265" width="3" height="2" fill="#fff"/>
<rect x="1320" y="245" width="1" height="27" fill="#000"/>
<rect x="1318" y="248" width="5" height="17" fill="#000"/>
<rect x="1319" y="249" width="3" height="15" fill="#fff"/>
<rect x="1328" y="223" width="1" height="28" fill="#000"/>
<rect x="1326" y="230" width="5" height="19" fill="#000"/>
<rect x="1327" y="231" width="3" height="17" fill="#fff"/>
<rect x="1336" y="200" width="1" height="38" fill="#000"/>
<rect x="1334" y="201" width="5" height="30" fill="#000"/>
<rect x="1335" y="202" width="3" height="28" fill="#fff"/>
<rect x="1344" y="177" width="1" height="34" fill="#000"/>
<rect x="1342" y="196" width="5" height="8" fill="#000"/>
<rect x="1343" y="197" width="3" height="6" fill="#fff"/>
<rect x="1352" y="186" width="1" height="18" fill="#000"/>
<rect x="1350" y="186" width="5" height="12" fill="#000"/>
<rect x="1351" y="187" width="3" height="10" fill="#fff"/>
<rect x="1360" y="186" width="1" height="11" fill="#000"/>
<rect x="1358" y="187" width="5" height="7" fill="#000"/>
<rect x="1359" y="188" width="3" height="5" fill="#fff"/>
<rect x="1368" y="168" width="1" height="22" fill="#000"/>
<rect x="1366" y="173" width="5" height="16" fill="#000"/>
<rect x="1367" y="174" width="3" height="14" fill="#fff"/>
<rect x="1376" y="134" width="1" height="43" fill="#000"/>
<rect x="1374" y="135" width="5" height="39" fill="#000"/>
<rect x="1375" y="136" width="3" height="37" fill="#fff"/>
<rect x="1384" y="124" width="1" height="30" fill="#000"/>
<rect x="1382" y="128" width="5" height="9" fill="#000"/>
<rect x="1383" y="129" width="3" height="7" fill="#fff"/>
<rect x="1313" y="139" width="95" height="13" fill="#00ff00"/>
</g>
<g clip-path="url(#cmacd)">
<rect x="0" y="619" width="1" height="19" fill="#c0c0c0"/>
<rect x="8" y="619" width="1" height="19" fill="#c0c0c0"/>
<rect x="16" y="621" width="1" height="17" fill="#c0c0c0"/>
<rect x="24" y="621" width="1" height="17" fill="#c0c0c0"/>
<rect x="32" y="623" width="1" height="15" fill="#c0c0c0"/>
<rect x="40" y="625" width="1" height="13" fill="#c0c0c0"/>
<rect x="48" y="627" width="1" height="11" fill="#c0c0c0"/>
<rect x="56" y="628" width="1" height="10" fill="#c0c0c0"/>
<rect x="64" y="629" width="1" height="9" fill="#c0c0c0"/>
<rect x="72" y="628" width="1" height="10" fill="#c0c0c0"/>
<rect x="80" y="628" width="1" height="10" fill="#c0c0c0"/>
<rect x="88" y="627" width="1" height="11" fill="#c0c0c0"/>
<rect x="96" y="626" width="1" height="12" fill="#c0c0c0"/>
<rect x="104" y="628" width="1" height="10" fill="#c0c0c0"/>
<rect x="112" y="629" width="1" height="9" fill="#c0c0c0"/>
<rect x="120" y="630" width="1" height="8" fill="#c0c0c0"/>
<rect x="128" y="632" width="1" height="6" fill="#c0c0c0"/>
<rect x="136" y="632" width="1" height="6" fill="#c0c0c0"/>
<rect x="144" y="632" width="1" height="6" fill="#c0c0c0"/>
<rect x="152" y="632" width="1" height="6" fill="#c0c0c0"/>
<rect x="160" y="630" width="1" height="8" fill="#c0c0c0"/>
<rect x="168" y="630" width="1" height="8" fill="#c0c0c0"/>
<rect x="176" y="632" width="1" height="6" fill="#c0c0c0"/>
<rect x="184" y="631" width="1" height="7" fill="#c0c0c0"/>
<rect x="192" y="630" width="1" height="8" fill="#c0c0c0"/>
<rect x="200" y="628" width="1" height="10" fill="#c0c0c0"/>
<rect x="208" y="627" width="1" height="11" fill="#c0c0c0"/>
<rect x="216" y="625" width="1" height="13" fill="#c0c0c0"/>
<rect x="224" y="625" width="1" height="13" fill="#c0c0c0"/>
<rect x="232" y="625" width="1" height="13" fill="#c0c0c0"/>
<rect x="240" y="625" width="1" height="13" fill="#c0c0c0"/>
<rect x="248" y="625" width="1" height="13" fill="#c0c0c0"/>
<rect x="256" y="625" width="1" height="13" fill="#c0c0c0"/>
<rect x="264" y="627" width="1" height="11" fill="#c0c0c0"/>
<rect x="272" y="628" width="1" height="10" fill="#c0c0c0"/>
<rect x="280" y="629" width="1" height="9" fill="#c0c0c0"/>
<rect x="288" y="629" width="1" height="9" fill="#c0c0c0"/>
<rect x="296" y="629" width="1" height="9" fill="#c0c0c0"/>
<rect x="304" y="630" width="1" height="8" fill="#c0c0c0"/>
<rect x="312" y="633" width="1" height="5" fill="#c0c0c0"/>
<rect x="320" y="635" width="1" height="3" fill="#c0c0c0"/>
<rect x="328" y="636" width="1" height="2" fill="#c0c0c0"/>
<rect x="336" y="636" width="1" height="2" fill="#c0c0c0"/>
<rect x="344" y="637" width="1" height="1" fill="#c0c0c0"/>
<rect x="352" y="637" width="1" height="2" fill="#c0c0c0"/>
<rect x="360" y="637" width="1" height="3" fill="#c0c0c0"/>
<rect x="368" y="637" width="1" height="5" fill="#c0c0c0"/>
<rect x="376" y="637" width="1" height="4" fill="#c0c0c0"/>
<rect x="384" y="637" width="1" height="1" fill="#c0c0c0"/>
<rect x="392" y="637" width="1" height="1" fill="#c0c0c0"/>
<rect x="400" y="637" width="1" height="1" fill="#c0c0c0"/>
<rect x="408" y="636" width="1" height="2" fill="#c0c0c0"/>
<rect x="416" y="635" width="1" height="3" fill="#c0c0c0"/>
<rect x="424" y="633" width="1" height="5" fill="#c0c0c0"/>
<rect x="432" y="632" width="1" height="6" fill="#c0c0c0"/>
<rect x="440" y="631" width="1" height="7" fill="#c0c0c0"/>
<rect x="448" y="630" width="1" height="8" fill="#c0c0c0"/>
<rect x="456" y="630" width="1" height="8" fill="#c0c0c0"/>
<rect x="464" y="631" width="1" height="7" fill="#c0c0c0"/>
<rect x="472" y="631" width="1" height="7" fill="#c0c0c0"/>
<rect x="480" y="631" width="1" height="7" fill="#c0c0c0"/>
<rect x="488" y="634" width="1" height="4" fill="#c0c0c0"/>
<rect x="496" y="637" width="1" height="1" fill="#c0c0c0"/>
<rect x="504" y="637" width="1" height="1" fill="#c0c0c0"/>
<rect x="512" y="637" width="1" height="4" fill="#c0c0c0"/>
<rect x="520" y="637" width="1" height="6" fill="#c0c0c0"/>
<rect x="528" y="637" width="1" height="7" fill="#c0c0c0"/>
<rect x="536" y="637" width="1" height="11" fill="#c0c0c0"/>
<rect x="544" y="637" width="1" height="14" fill="#c0c0c0"/>
<rect x="552" y="637" width="1" height="15" fill="#c0c0c0"/>
<rect x="560" y="637" width="1" height="13" fill="#c0c0c0"/>
<rect x="568" y="637" width="1" height="9" fill="#c0c0c0"/>
<rect x="576" y="637" width="1" height="6" fill="#c0c0c0"/>
<rect x="584" y="637" width="1" height="4" fill="#c0c0c0"/>
<rect x="592" y="637" width="1" height="1" fill="#c0c0c0"/>
<rect x="600" y="637" width="1" height="1" fill="#c0c0c0"/>
<rect x="608" y="637" width="1" height="1" fill="#c0c0c0"/>
<rect x="616" y="635" width="1" height="3" fill="#c0c0c0"/>
<rect x="624" y="635" width="1" height="3" fill="#c0c0c0"/>
<rect x="632" y="636" width="1" height="2" fill="#c0c0c0"/>
<rect x="640" y="637" width="1" height="1" fill="#c0c0c0"/>
<rect x="648" y="637" width="1" height="1" fill="#c0c0c0"/>
<rect x="656" y="636" width="1" height="2" fill="#c0c0c0"/>
<rect x="664" y="637" width="1" height="1" fill="#c0c0c0"/>
<rect x="672" y="636" width="1" height="2" fill="#c0c0c0"/>
<rect x="680" y="637" width="1" height="3" fill="#c0c0c0"/>
<rect x="688" y="637" width="1" height="6" fill="#c0c0c0"/>
<rect x="696" y="637" width="1" height="11" fill="#c0c0c0"/>
<rect x="704" y="637" width="1" height="15" fill="#c0c0c0"/>
<rect x="712" y="637" width="1" height="18" fill="#c0c0c0"/>
<rect x="720" y="637" width="1" height="25" fill="#c0c0c0"/>
<rect x="728" y="637" width="1" height="35" fill="#c0c0c0"/>
<rect x="736" y="637" width="1" height="41" fill="#c0c0c0"/>
<rect x="744" y="637" width="1" height="40" fill="#c0c0c0"/>
<rect x="752" y="637" width="1" height="43" fill="#c0c0c0"/>
<rect x="760" y="637" width="1" height="43" fill="#c0c0c0"/>
<rect x="768" y="637" width="1" height="44" fill="#c0c0c0"/>
<rect x="776" y="637" width="1" height="49" fill="#c0c0c0"/>
<rect x="784" y="637" width="1" height="54" fill="#c0c0c0"/>
<rect x="792" y="637" width="1" height="60" fill="#c0c0c0"/>
<rect x="800" y="637" width="1" height="63" fill="#c0c0c0"/>
<rect x="808" y="637" width="1" height="69" fill="#c0c0c0"/>
<rect x="816" y="637" width="1" height="84" fill="#c0c0c0"/>
<rect x="824" y="637" width="1" height="88" fill="#c0c0c0"/>
<rect x="832" y="637" width="1" height="93" fill="#c0c0c0"/>
<rect x="840" y="637" width="1" height="101" fill="#c0c0c0"/>
<rect x="848" y="637" width="1" height="104" fill="#c0c0c0"/>
<rect x="856" y="637" width="1" height="105" fill="#c0c0c0"/>
<rect x="864" y="637" width="1" height="103" fill="#c0c0c0"/>
<rect x="872" y="637" width="1" height="101" fill="#c0c0c0"/>
<rect x="880" y="637" width="1" height="102" fill="#c0c0c0"/>
<rect x="888" y="637" width="1" height="96" fill="#c0c0c0"/>
<rect x="896" y="637" width="1" height="83" fill="#c0c0c0"/>
<rect x="904" y="637" width="1" height="71" fill="#c0c0c0"/>
<rect x="912" y="637" width="1" height="60" fill="#c0c0c0"/>
<rect x="920" y="637" width="1" height="53" fill="#c0c0c0"/>
<rect x="928" y="637" width="1" height="47" fill="#c0c0c0"/>
<rect x="936" y="637" width="1" height="39" fill="#c0c0c0"/>
<rect x="944" y="637" width="1" height="35" fill="#c0c0c0"/>
<rect x="952" y="637" width="1" height="36" fill="#c0c0c0"/>
<rect x="960" y="637" width="1" height="35" fill="#c0c0c0"/>
<rect x="968" y="637" width="1" height="36" fill="#c0c0c0"/>
<rect x="976" y="637" width="1" height="35" fill="#c0c0c0"/>
<rect x="984" y="637" width="1" height="28" fill="#c0c0c0"/>
<rect x="992" y="637" width="1" height="22" fill="#c0c0c0"/>
<rect x="1000" y="637" width="1" height="15" fill="#c0c0c0"/>
<rect x="1008" y="637" width="1" height="9" fill="#c0c0c0"/>
<rect x="1016" y="637" width="1" height="5" fill="#c0c0c0"/>
<rect x="1024" y="637" width="1" height="2" fill="#c0c0c0"/>
<rect x="1032" y="637" width="1" height="1" fill="#c0c0c0"/>
<rect x="1040" y="635" width="1" height="3" fill="#c0c0c0"/>
<rect x="1048" y="634" width="1" height="4" fill="#c0c0c0"/>
<rect x="1056" y="631" width="1" height="7" fill="#c0c0c0"/>
<rect x="1064" y="629" width="1" height="9" fill="#c0c0c0"/>
<rect x="1072" y="627" width="1" height="11" fill="#c0c0c0"/>
<rect x="1080" y="627" width="1" height="11" fill="#c0c0c0"/>
<rect x="1088" y="629" width="1" height="9" fill="#c0c0c0"/>
<rect x="1096" y="629" width="1" height="9" fill="#c0c0c0"/>
<rect x="1104" y="630" width="1" height="8" fill="#c0c0c0"/>
<rect x="1112" y="630" width="1" height="8" fill="#c0c0c0"/>
<rect x="1120" y="628" width="1" height="10" fill="#c0c0c0"/>
<rect x="1128" y="628" width="1" height="10" fill="#c0c0c0"/>
<rect x="1136" y="625" width="1" height="13" fill="#c0c0c0"/>
<rect x="1144" y="622" width="1" height="16" fill="#c0c0c0"/>
<rect x="1152" y="621" width="1" height="17" fill="#c0c0c0"/>
<rect x="1160" y="623" width="1" height="15" fill="#c0c0c0"/>
<rect x="1168" y="626" width="1" height="12" fill="#c0c0c0"/>
<rect x="1176" y="628" width="1" height="10" fill="#c0c0c0"/>
<rect x="1184" y="629" width="1" height="9" fill="#c0c0c0"/>
<rect x="1192" y="630" width="1" height="8" fill="#c0c0c0"/>
<rect x="1200" y="629" width="1" height="9" fill="#c0c0c0"/>
<rect x="1208" y="626" width="1" height="12" fill="#c0c0c0"/>
<rect x="1216" y="623" width="1" height="15" fill="#c0c0c0"/>
<rect x="1224" y="621" width="1" height="17" fill="#c0c0c0"/>
<rect x="1232" y="621" width="1" height="17" fill="#c0c0c0"/>
<rect x="1240" y="622" width="1" height="16" fill="#c0c0c0"/>
<rect x="1248" y="622" width="1" height="16" fill="#c0c0c0"/>
<rect x="1256" y="623" width="1" height="15" fill="#c0c0c0"/>
<rect x="1264" y="622" width="1" height="16" fill="#c0c0c0"/>
<rect x="1272" y="621" width="1" height="17" fill="#c0c0c0"/>
<rect x="1280" y="620" width="1" height="18" fill="#c0c0c0"/>
<rect x="1288" y="619" width="1" height="19" fill="#c0c0c0"/>
<rect x="1296" y="618" width="1" height="20" fill="#c0c0c0"/>
<rect x="1304" y="618" width="1" height="20" fill="#c0c0c0"/>
<rect x="1312" y="618" width="1" height="20" fill="#c0c0c0"/>
<rect x="1320" y="616" width="1" height="22" fill="#c0c0c0"/>
<rect x="1328" y="614" width="1" height="24" fill="#c0c0c0"/>
<rect x="1336" y="610" width="1" height="28" fill="#c0c0c0"/>
<rect x="1344" y="606" width="1" height="32" fill="#c0c0c0"/>
<rect x="1352" y="603" width="1" height="35" fill="#c0c0c0"/>
<rect x="1360" y="601" width="1" height="37" fill="#c0c0c0"/>
<rect x="1368" y="599" width="1" height="39" fill="#c0c0c0"/>
<rect x="1376" y="594" width="1" height="44" fill="#c0c0c0"/>
<rect x="1384" y="590" width="1" height="48" fill="#c0c0c0"/>
<polyline points="0.5,615.5 8.5,615.5 16.5,616.5 24.5,616.5 32.5,617.5 40.5,619.5 48.5,620.5 56.5,621.5 64.5,623.5 72.5,624.5 80.5,625.5 88.5,626.5 96.5,626.5 104.5,627.5 112.5,627.5 120.5,628.5 128.5,628.5 136.5,628.5 144.5,629.5 152.5,629.5 160.5,630.5 168.5,630.5 176.5,631.5 184.5,631.5 192.5,631.5 200.5,630.5 208.5,630.5 216.5,629.5 224.5,628.5 232.5,628.5 240.5,627.5 248.5,626.5 256.5,626.5 264.5,625.5 272.5,625.5 280.5,626.5 288.5,626.5 296.5,626.5 304.5,627.5 312.5,628.5 320.5,629.5 328.5,630.5 336.5,631.5 344.5,632.5 352.5,633.5 360.5,634.5 368.5,636.5 376.5,637.5 384.5,637.5 392.5,637.5 400.5,638.5 408.5,638.5 416.5,637.5 424.5,637.5 432.5,636.5 440.5,635.5 448.5,634.5 456.5,633.5 464.5,632.5 472.5,632.5 480.5,631.5 488.5,631.5 496.5,631.5 504.5,632.5 512.5,633.5 520.5,634.5 528.5,636.5 536.5,638.5 544.5,640.5 552.5,642.5 560.5,644.5 568.5,645.5 576.5,645.5 584.5,645.5 592.5,645.5 600.5,644.5 608.5,643.5 616.5,641.5 624.5,639.5 632.5,638.5 640.5,637.5 648.5,636.5 656.5,636.5 664.5,636.5 672.5,636.5 680.5,636.5 688.5,637.5 696.5,638.5 704.5,640.5 712.5,642.5 720.5,644.5 728.5,648.5 736.5,653.5 744.5,657.5 752.5,662.5 760.5,666.5 768.5,670.5 776.5,674.5 784.5,678.5 792.5,682.5 800.5,685.5 808.5,688.5 816.5,693.5 824.5,698.5 832.5,704.5 840.5,710.5 848.5,716.5 856.5,722.5 864.5,727.5 872.5,731.5 880.5,735.5 888.5,736.5 896.5,736.5 904.5,733.5 912.5,729.5 920.5,723.5 928.5,716.5 936.5,709.5 944.5,702.5 952.5,694.5 960.5,687.5 968.5,682.5 976.5,678.5 984.5,674.5 992.5,671.5 1000.5,667.5 1008.5,664.5 1016.5,660.5 1024.5,657.5 1032.5,653.5 1040.5,649.5 1048.5,644.5 1056.5,641.5 1064.5,637.5 1072.5,635.5 1080.5,633.5 1088.5,631.5 1096.5,630.5 1104.5,630.5 1112.5,629.5 1120.5,628.5 1128.5,628.5 1136.5,628.5 1144.5,627.5 1152.5,626.5 1160.5,626.5 1168.5,625.5 1176.5,625.5 1184.5,625.5 1192.5,625.5 1200.5,625.5 1208.5,626.5 1216.5,626.5 1224.5,626.5 1232.5,625.5 1240.5,625.5 1248.5,624.5 1256.5,624.5 1264.5,623.5 1272.5,622.5 1280.5,621.5 1288.5,621.5 1296.5,620.5 1304.5,620.5 1312.5,620.5 1320.5,619.5 1328.5,618.5 1336.5,617.5 1344.5,615.5 1352.5,613.5 1360.5,611.5 1368.5,609.5 1376.5,606.5 1384.5,603.5" fill="none" stroke="#ff0000" stroke-width="1" stroke-dasharray="3 3" stroke-dashoffset="2"/>
</g>
<g clip-path="url(#crsi)">
<line x1="0" y1="788.5" x2="1629" y2="788.5" stroke="#c0c0c0" stroke-width="1" stroke-dasharray="3 3" stroke-dashoffset="1"/>
<line x1="0" y1="839.5" x2="1629" y2="839.5" stroke="#c0c0c0" stroke-width="1" stroke-dasharray="3 3" stroke-dashoffset="1"/>
<line x1="0" y1="900.5" x2="1629" y2="900.5" stroke="#c0c0c0" stroke-width="1" stroke-dasharray="3 3" stroke-dashoffset="1"/>
<polyline points="0.5,825.5 8.5,816.5 16.5,822.5 24.5,819.5 32.5,831.5 40.5,837.5 48.5,838.5 56.5,833.5 64.5,827.5 72.5,818.5 80.5,819.5 88.5,818.5 96.5,818.5 104.5,829.5 112.5,826.5 120.5,838.5 128.5,842.5 136.5,833.5 144.5,830.5 152.5,821.5 160.5,820.5 168.5,832.5 176.5,833.5 184.5,832.5 192.5,809.5 200.5,810.5 208.5,809.5 216.5,804.5 224.5,809.5 232.5,819.5 240.5,819.5 248.5,822.5 256.5,820.5 264.5,824.5 272.5,826.5 280.5,830.5 288.5,819.5 296.5,830.5 304.5,831.5 312.5,852.5 320.5,851.5 328.5,846.5 336.5,834.5 344.5,852.5 352.5,857.5 360.5,855.5 368.5,861.5 376.5,839.5 384.5,830.5 392.5,832.5 400.5,831.5 408.5,821.5 416.5,825.5 424.5,823.5 432.5,817.5 440.5,822.5 448.5,820.5 456.5,821.5 464.5,836.5 472.5,836.5 480.5,834.5 488.5,846.5 496.5,860.5 504.5,868.5 512.5,858.5 520.5,859.5 528.5,864.5 536.5,876.5 544.5,872.5 552.5,866.5 560.5,845.5 568.5,831.5 576.5,822.5 584.5,832.5 592.5,835.5 600.5,832.5 608.5,828.5 616.5,828.5 624.5,836.5 632.5,842.5 640.5,842.5 648.5,846.5 656.5,849.5 664.5,834.5 672.5,845.5 680.5,854.5 688.5,863.5 696.5,872.5 704.5,873.5 712.5,874.5 720.5,887.5 728.5,896.5 736.5,885.5 744.5,861.5 752.5,871.5 760.5,859.5 768.5,864.5 776.5,872.5 784.5,876.5 792.5,882.5 800.5,877.5 808.5,883.5 816.5,894.5 824.5,874.5 832.5,877.5 840.5,883.5 848.5,875.5 856.5,875.5 864.5,871.5 872.5,872.5 880.5,876.5 888.5,860.5 896.5,843.5 904.5,843.5 912.5,839.5 920.5,845.5 928.5,845.5 936.5,838.5 944.5,845.5 952.5,852.5 960.5,852.5 968.5,854.5 976.5,852.5 984.5,836.5 992.5,836.5 1000.5,832.5 1008.5,829.5 1016.5,832.5 1024.5,834.5 1032.5,836.5 1040.5,830.5 1048.5,835.5 1056.5,828.5 1064.5,830.5 1072.5,830.5 1080.5,833.5 1088.5,840.5 1096.5,837.5 1104.5,836.5 1112.5,833.5 1120.5,833.5 1128.5,826.5 1136.5,823.5 1144.5,816.5 1152.5,825.5 1160.5,836.5 1168.5,843.5 1176.5,839.5 1184.5,835.5 1192.5,839.5 1200.5,827.5 1208.5,823.5 1216.5,821.5 1224.5,819.5 1232.5,829.5 1240.5,828.5 1248.5,827.5 1256.5,830.5 1264.5,829.5 1272.5,817.5 1280.5,824.5 1288.5,818.5 1296.5,823.5 1304.5,823.5 1312.5,820.5 1320.5,814.5 1328.5,809.5 1336.5,801.5 1344.5,800.5 1352.5,797.5 1360.5,798.5 1368.5,794.5 1376.5,787.5 1384.5,786.5" fill="none" stroke="#1e90ff" stroke-width="1"/>
</g>
</svg>

<svg style="position:absolute;left:0;top:0" width="216" height="112" shape-rendering="crispEdges">
<defs>
<linearGradient id="rg1" gradientUnits="userSpaceOnUse" x1="0" y1="45" x2="0" y2="69"><stop offset="0" stop-color="#ff5858"/><stop offset="1" stop-color="#e63a3a"/></linearGradient>
<linearGradient id="rg2" gradientUnits="userSpaceOnUse" x1="0" y1="69" x2="0" y2="109"><stop offset="0" stop-color="#e23838"/><stop offset="1" stop-color="#b20404"/></linearGradient>
<linearGradient id="bg1" gradientUnits="userSpaceOnUse" x1="0" y1="47" x2="0" y2="65"><stop offset="0" stop-color="#f2f2f2"/><stop offset="0.33" stop-color="#ebebeb"/><stop offset="0.36" stop-color="#d9d9d9"/><stop offset="1" stop-color="#d2d2d2"/></linearGradient>
</defs>
<rect x="0" y="43" width="216" height="68" fill="#fff"/>
<!-- sell -->
<rect x="0" y="45" width="47" height="25" fill="#b00000"/>
<rect x="0" y="46" width="46" height="24" fill="url(#rg1)"/>
<rect x="0" y="69" width="104" height="40" fill="#b00000"/>
<rect x="0" y="70" width="103" height="39" fill="url(#rg2)"/>
<rect x="0" y="69" width="46" height="1" fill="#e43c3c"/>
<rect x="0" y="68" width="43" height="1" fill="#880000"/>
<rect x="0" y="69" width="43" height="1" fill="#ff7272"/>
<!-- buy -->
<rect x="162" y="45" width="52" height="25" fill="#b00000"/>
<rect x="163" y="46" width="50" height="24" fill="url(#rg1)"/>
<rect x="106" y="69" width="108" height="40" fill="#b00000"/>
<rect x="107" y="70" width="106" height="39" fill="url(#rg2)"/>
<rect x="163" y="69" width="50" height="1" fill="#e43c3c"/>
<rect x="166" y="68" width="44" height="1" fill="#880000"/>
<rect x="166" y="69" width="44" height="1" fill="#ff7272"/>
<!-- lot box -->
<rect x="49" y="45" width="111" height="22" fill="#a9abb0"/>
<rect x="50" y="46" width="109" height="20" fill="#fff"/>
<rect x="51" y="47" width="18" height="18" fill="url(#bg1)"/>
<rect x="70" y="45" width="1" height="22" fill="#a9abb0"/>
<rect x="138" y="45" width="1" height="22" fill="#a9abb0"/>
<rect x="140" y="47" width="18" height="18" fill="url(#bg1)"/>
</svg>
<svg style="position:absolute;left:0;top:0" width="216" height="112">
<path d="M57,54 L62,54 L59.5,57 Z" fill="#5565d0"/>
<path d="M146.5,57.5 L151.5,57.5 L149,54.5 Z" fill="#5565d0"/>
<text x="134.5" y="60" font-size="12" text-anchor="end" font-family="'Liberation Sans', sans-serif" fill="#000">1.00</text>
<text x="7" y="61" font-size="11.5" font-family="'Liberation Sans', sans-serif" fill="#fff">SELL</text>
<text x="175.5" y="61" font-size="11.5" font-family="'Liberation Sans', sans-serif" fill="#fff">BUY</text>
<text x="11" y="100" font-size="12" font-weight="700" font-family="'Liberation Sans', sans-serif" fill="#fff">22873</text>
<text x="49.5" y="100" font-size="18" font-weight="700" font-family="'Liberation Sans', sans-serif" fill="#fff">.</text>
<text x="0" y="0" font-size="33" font-family="'Liberation Sans', sans-serif" fill="#fff" transform="translate(57.5,100) scale(0.88,1)">5</text>
<text x="120" y="100" font-size="12" font-weight="700" font-family="'Liberation Sans', sans-serif" fill="#fff">22901</text>
<text x="160.5" y="100" font-size="18" font-weight="700" font-family="'Liberation Sans', sans-serif" fill="#fff">.</text>
<text x="0" y="0" font-size="33" font-family="'Liberation Sans', sans-serif" fill="#fff" transform="translate(168.5,100) scale(0.88,1)">5</text>
</svg>
'Liberation Sans', sans-serif" fill="#000">1.00</text>
<text x="7" y="61" font-size="11.5" font-family="'Liberation Sans', sans-serif" fill="#fff">SELL</text>
<text x="175" y="61" font-size="11.5" font-family="'Liberation Sans', sans-serif" fill="#fff">BUY</text>
<text x="11" y="100" font-size="12" font-weight="700" font-family="'Liberation Sans', sans-serif" fill="#fff">22873</text>
<text x="49.5" y="100" font-size="18" font-weight="700" font-family="'Liberation Sans', sans-serif" fill="#fff">.</text>
<text x="56" y="100" font-size="33" font-family="'Liberation Sans', sans-serif" fill="#fff">5</text>
<text x="120" y="100" font-size="12" font-weight="700" font-family="'Liberation Sans', sans-serif" fill="#fff">22901</text>
<text x="160.5" y="100" font-size="18" font-weight="700" font-family="'Liberation Sans', sans-serif" fill="#fff">.</text>
<text x="167" y="100" font-size="33" font-family="'Liberation Sans', sans-serif" fill="#fff">5</text>
</svg>

<svg width="1677" height="945" style="position:absolute;left:0;top:0"><g shape-rendering="crispEdges"><rect x="1631" y="47" width="2" height="1" fill="#000"/><rect x="1631" y="80" width="2" height="1" fill="#000"/><rect x="1631" y="113" width="2" height="1" fill="#000"/><rect x="1631" y="146" width="2" height="1" fill="#000"/><rect x="1631" y="179" width="2" height="1" fill="#000"/><rect x="1631" y="212" width="2" height="1" fill="#000"/><rect x="1631" y="245" width="2" height="1" fill="#000"/><rect x="1631" y="278" width="2" height="1" fill="#000"/><rect x="1631" y="311" width="2" height="1" fill="#000"/><rect x="1631" y="344" width="2" height="1" fill="#000"/><rect x="1631" y="377" width="2" height="1" fill="#000"/><rect x="1631" y="410" width="2" height="1" fill="#000"/><rect x="1631" y="443" width="2" height="1" fill="#000"/><rect x="1631" y="476" width="2" height="1" fill="#000"/><rect x="1631" y="509" width="2" height="1" fill="#000"/><rect x="1631" y="542" width="2" height="1" fill="#000"/><rect x="1631" y="575" width="2" height="1" fill="#000"/><rect x="1631" y="582" width="2" height="1" fill="#000"/><rect x="1631" y="637" width="2" height="1" fill="#000"/><rect x="1631" y="749" width="2" height="1" fill="#000"/><rect x="1631" y="754" width="2" height="1" fill="#000"/><rect x="-8" y="927" width="1" height="3" fill="#000"/><rect x="56" y="927" width="1" height="3" fill="#000"/><rect x="120" y="927" width="1" height="3" fill="#000"/><rect x="184" y="927" width="1" height="3" fill="#000"/><rect x="248" y="927" width="1" height="3" fill="#000"/><rect x="312" y="927" width="1" height="3" fill="#000"/><rect x="376" y="927" width="1" height="3" fill="#000"/><rect x="440" y="927" width="1" height="3" fill="#000"/><rect x="504" y="927" width="1" height="3" fill="#000"/><rect x="568" y="927" width="1" height="3" fill="#000"/><rect x="632" y="927" width="1" height="3" fill="#000"/><rect x="696" y="927" width="1" height="3" fill="#000"/><rect x="760" y="927" width="1" height="3" fill="#000"/><rect x="824" y="927" width="1" height="3" fill="#000"/><rect x="888" y="927" width="1" height="3" fill="#000"/><rect x="952" y="927" width="1" height="3" fill="#000"/><rect x="1016" y="927" width="1" height="3" fill="#000"/><rect x="1080" y="927" width="1" height="3" fill="#000"/><rect x="1144" y="927" width="1" height="3" fill="#000"/><rect x="1208" y="927" width="1" height="3" fill="#000"/><rect x="1272" y="927" width="1" height="3" fill="#000"/><rect x="1336" y="927" width="1" height="3" fill="#000"/><path d="M0,33 L2,35 L0,35 Z" fill="#000"/><path d="M1395,26 L1404,26 L1399.5,30.5 Z" fill="#c0c0c0"/><rect x="1441" y="144" width="7" height="1" fill="#ff0000"/><rect x="1448" y="142" width="3" height="4" fill="#ff0000"/><rect x="1449" y="143" width="1" height="2" fill="#fff"/><rect x="1451" y="132" width="74" height="25" fill="#ff0000"/><rect x="1452" y="133" width="72" height="23" fill="#fff"/></g><text x="1636" y="51" font-size="9.4" fill="#000" text-anchor="start" font-family="'Liberation Sans', sans-serif" letter-spacing="-0.15">24187.0</text><text x="1636" y="84" font-size="9.4" fill="#000" text-anchor="start" font-family="'Liberation Sans', sans-serif" letter-spacing="-0.15">23643.0</text><text x="1636" y="117" font-size="9.4" fill="#000" text-anchor="start" font-family="'Liberation Sans', sans-serif" letter-spacing="-0.15">23115.0</text><text x="1636" y="150" font-size="9.4" fill="#000" text-anchor="start" font-family="'Liberation Sans', sans-serif" letter-spacing="-0.15">22587.0</text><text x="1636" y="183" font-size="9.4" fill="#000" text-anchor="start" font-family="'Liberation Sans', sans-serif" letter-spacing="-0.15">22059.0</text><text x="1636" y="216" font-size="9.4" fill="#000" text-anchor="start" font-family="'Liberation Sans', sans-serif" letter-spacing="-0.15">21531.0</text><text x="1636" y="249" font-size="9.4" fill="#000" text-anchor="start" font-family="'Liberation Sans', sans-serif" letter-spacing="-0.15">20987.0</text><text x="1636" y="282" font-size="9.4" fill="#000" text-anchor="start" font-family="'Liberation Sans', sans-serif" letter-spacing="-0.15">20459.0</text><text x="1636" y="315" font-size="9.4" fill="#000" text-anchor="start" font-family="'Liberation Sans', sans-serif" letter-spacing="-0.15">19931.0</text><text x="1636" y="348" font-size="9.4" fill="#000" text-anchor="start" font-family="'Liberation Sans', sans-serif" letter-spacing="-0.15">19403.0</text><text x="1636" y="381" font-size="9.4" fill="#000" text-anchor="start" font-family="'Liberation Sans', sans-serif" letter-spacing="-0.15">18875.0</text><text x="1636" y="414" font-size="9.4" fill="#000" text-anchor="start" font-family="'Liberation Sans', sans-serif" letter-spacing="-0.15">18331.0</text><text x="1636" y="447" font-size="9.4" fill="#000" text-anchor="start" font-family="'Liberation Sans', sans-serif" letter-spacing="-0.15">17803.0</text><text x="1636" y="480" font-size="9.4" fill="#000" text-anchor="start" font-family="'Liberation Sans', sans-serif" letter-spacing="-0.15">17275.0</text><text x="1636" y="513" font-size="9.4" fill="#000" text-anchor="start" font-family="'Liberation Sans', sans-serif" letter-spacing="-0.15">16747.0</text><text x="1636" y="546" font-size="9.4" fill="#000" text-anchor="start" font-family="'Liberation Sans', sans-serif" letter-spacing="-0.15">16219.0</text><text x="1636" y="579" font-size="9.4" fill="#000" text-anchor="start" font-family="'Liberation Sans', sans-serif" letter-spacing="-0.15">15691.0</text><text x="1634" y="591" font-size="9.4" fill="#000" text-anchor="start" font-family="'Liberation Sans', sans-serif" letter-spacing="-0.15">826.6</text><text x="1634" y="641" font-size="9.4" fill="#000" text-anchor="start" font-family="'Liberation Sans', sans-serif" letter-spacing="-0.15">0.00</text><text x="1634" y="747" font-size="9.4" fill="#000" text-anchor="start" font-family="'Liberation Sans', sans-serif" letter-spacing="-0.15">-1662.3</text><text x="1634" y="763" font-size="9.4" fill="#000" text-anchor="start" font-family="'Liberation Sans', sans-serif" letter-spacing="-0.15">100</text><text x="1633" y="792" font-size="9.4" fill="#000" text-anchor="start" font-family="'Liberation Sans', sans-serif" letter-spacing="-0.15">80</text><text x="1633" y="843" font-size="9.4" fill="#000" text-anchor="start" font-family="'Liberation Sans', sans-serif" letter-spacing="-0.15">50</text><text x="1633" y="904" font-size="9.4" fill="#000" text-anchor="start" font-family="'Liberation Sans', sans-serif" letter-spacing="-0.15">15</text><text x="1634" y="923" font-size="9.4" fill="#000" text-anchor="start" font-family="'Liberation Sans', sans-serif" >0</text><text x="-9" y="939" font-size="9.4" fill="#000" text-anchor="start" font-family="'Liberation Sans', sans-serif" >13 Nov 2019</text><text x="55" y="939" font-size="9.4" fill="#000" text-anchor="start" font-family="'Liberation Sans', sans-serif" >22 Nov 2019</text><text x="119" y="939" font-size="9.4" fill="#000" text-anchor="start" font-family="'Liberation Sans', sans-serif" >2 Dec 2019</text><text x="183" y="939" font-size="9.4" fill="#000" text-anchor="start" font-family="'Liberation Sans', sans-serif" >11 Dec 2019</text><text x="247" y="939" font-size="9.4" fill="#000" text-anchor="start" font-family="'Liberation Sans', sans-serif" >20 Dec 2019</text><text x="311" y="939" font-size="9.4" fill="#000" text-anchor="start" font-family="'Liberation Sans', sans-serif" >30 Dec 2019</text><text x="375" y="939" font-size="9.4" fill="#000" text-anchor="start" font-family="'Liberation Sans', sans-serif" >8 Jan 2020</text><text x="439" y="939" font-size="9.4" fill="#000" text-anchor="start" font-family="'Liberation Sans', sans-serif" >17 Jan 2020</text><text x="503" y="939" font-size="9.4" fill="#000" text-anchor="start" font-family="'Liberation Sans', sans-serif" >27 Jan 2020</text><text x="567" y="939" font-size="9.4" fill="#000" text-anchor="start" font-family="'Liberation Sans', sans-serif" >5 Feb 2020</text><text x="631" y="939" font-size="9.4" fill="#000" text-anchor="start" font-family="'Liberation Sans', sans-serif" >14 Feb 2020</text><text x="695" y="939" font-size="9.4" fill="#000" text-anchor="start" font-family="'Liberation Sans', sans-serif" >24 Feb 2020</text><text x="759" y="939" font-size="9.4" fill="#000" text-anchor="start" font-family="'Liberation Sans', sans-serif" >4 Mar 2020</text><text x="823" y="939" font-size="9.4" fill="#000" text-anchor="start" font-family="'Liberation Sans', sans-serif" >13 Mar 2020</text><text x="887" y="939" font-size="9.4" fill="#000" text-anchor="start" font-family="'Liberation Sans', sans-serif" >23 Mar 2020</text><text x="951" y="939" font-size="9.4" fill="#000" text-anchor="start" font-family="'Liberation Sans', sans-serif" >1 Apr 2020</text><text x="1015" y="939" font-size="9.4" fill="#000" text-anchor="start" font-family="'Liberation Sans', sans-serif" >10 Apr 2020</text><text x="1079" y="939" font-size="9.4" fill="#000" text-anchor="start" font-family="'Liberation Sans', sans-serif" >20 Apr 2020</text><text x="1143" y="939" font-size="9.4" fill="#000" text-anchor="start" font-family="'Liberation Sans', sans-serif" >29 Apr 2020</text><text x="1207" y="939" font-size="9.4" fill="#000" text-anchor="start" font-family="'Liberation Sans', sans-serif" >8 May 2020</text><text x="1271" y="939" font-size="9.4" fill="#000" text-anchor="start" font-family="'Liberation Sans', sans-serif" >18 May 2020</text><text x="1335" y="939" font-size="9.4" fill="#000" text-anchor="start" font-family="'Liberation Sans', sans-serif" >27 May 2020</text><text x="7" y="37" font-size="9.4" fill="#000" text-anchor="start" font-family="'Liberation Sans', sans-serif" >JPN225-,Daily&#160;&#160;22742.5 22937.5 22452.5 22875.0</text><text x="-4.5" y="593" font-size="9.4" fill="#000" text-anchor="start" font-family="'Liberation Sans', sans-serif" >MACD(12,26,9) 713.47 514.12</text><text x="-4" y="765" font-size="9.4" fill="#000" text-anchor="start" font-family="'Liberation Sans', sans-serif" >RSI(14) 81.2689</text><text x="1453" y="153" font-size="21.5" fill="#ff0000" text-anchor="start" font-family="'Liberation Sans', sans-serif" letter-spacing="-1.2">22614.5</text><text x="1425.5" y="204" letter-spacing="0.5" font-size="32" fill="#000" font-family="'Liberation Serif', 'Noto Serif CJK SC', serif" font-weight="500">多空转折点</text><text x="1424.5" y="203" letter-spacing="0.5" font-size="32" fill="#00ff00" font-family="'Liberation Serif', 'Noto Serif CJK SC', serif" font-weight="500">多空转折点</text><rect x="1632" y="81" width="41" height="11" fill="#ff0000" shape-rendering="crispEdges"/><text x="1636" y="90" font-size="9.4" fill="#fff" font-family="'Liberation Sans', sans-serif" letter-spacing="-0.15">23530.1</text><rect x="1632" y="99" width="41" height="11" fill="#ff0000" shape-rendering="crispEdges"/><text x="1636" y="108" font-size="9.4" fill="#fff" font-family="'Liberation Sans', sans-serif" letter-spacing="-0.15">23241.0</text><rect x="1632" y="123" width="41" height="11" fill="#000000" shape-rendering="crispEdges"/><text x="1636" y="132" font-size="9.4" fill="#fff" font-family="'Liberation Sans', sans-serif" letter-spacing="-0.15">22875.0</text><rect x="1632" y="138" width="41" height="11" fill="#32cd32" shape-rendering="crispEdges"/><text x="1636" y="147" font-size="9.4" fill="#fff" font-family="'Liberation Sans', sans-serif" letter-spacing="-0.15">22614.5</text><rect x="1632" y="156" width="41" height="11" fill="#0000ff" shape-rendering="crispEdges"/><text x="1636" y="165" font-size="9.4" fill="#fff" font-family="'Liberation Sans', sans-serif" letter-spacing="-0.15">22325.4</text><rect x="1632" y="181" width="41" height="11" fill="#0000ff" shape-rendering="crispEdges"/><text x="1636" y="190" font-size="9.4" fill="#fff" font-family="'Liberation Sans', sans-serif" letter-spacing="-0.15">21923.8</text></svg>
<div style="position:absolute;left:1676px;top:22px;width:1px;height:923px;background:#e2e2e2"></div>
</body></html>
